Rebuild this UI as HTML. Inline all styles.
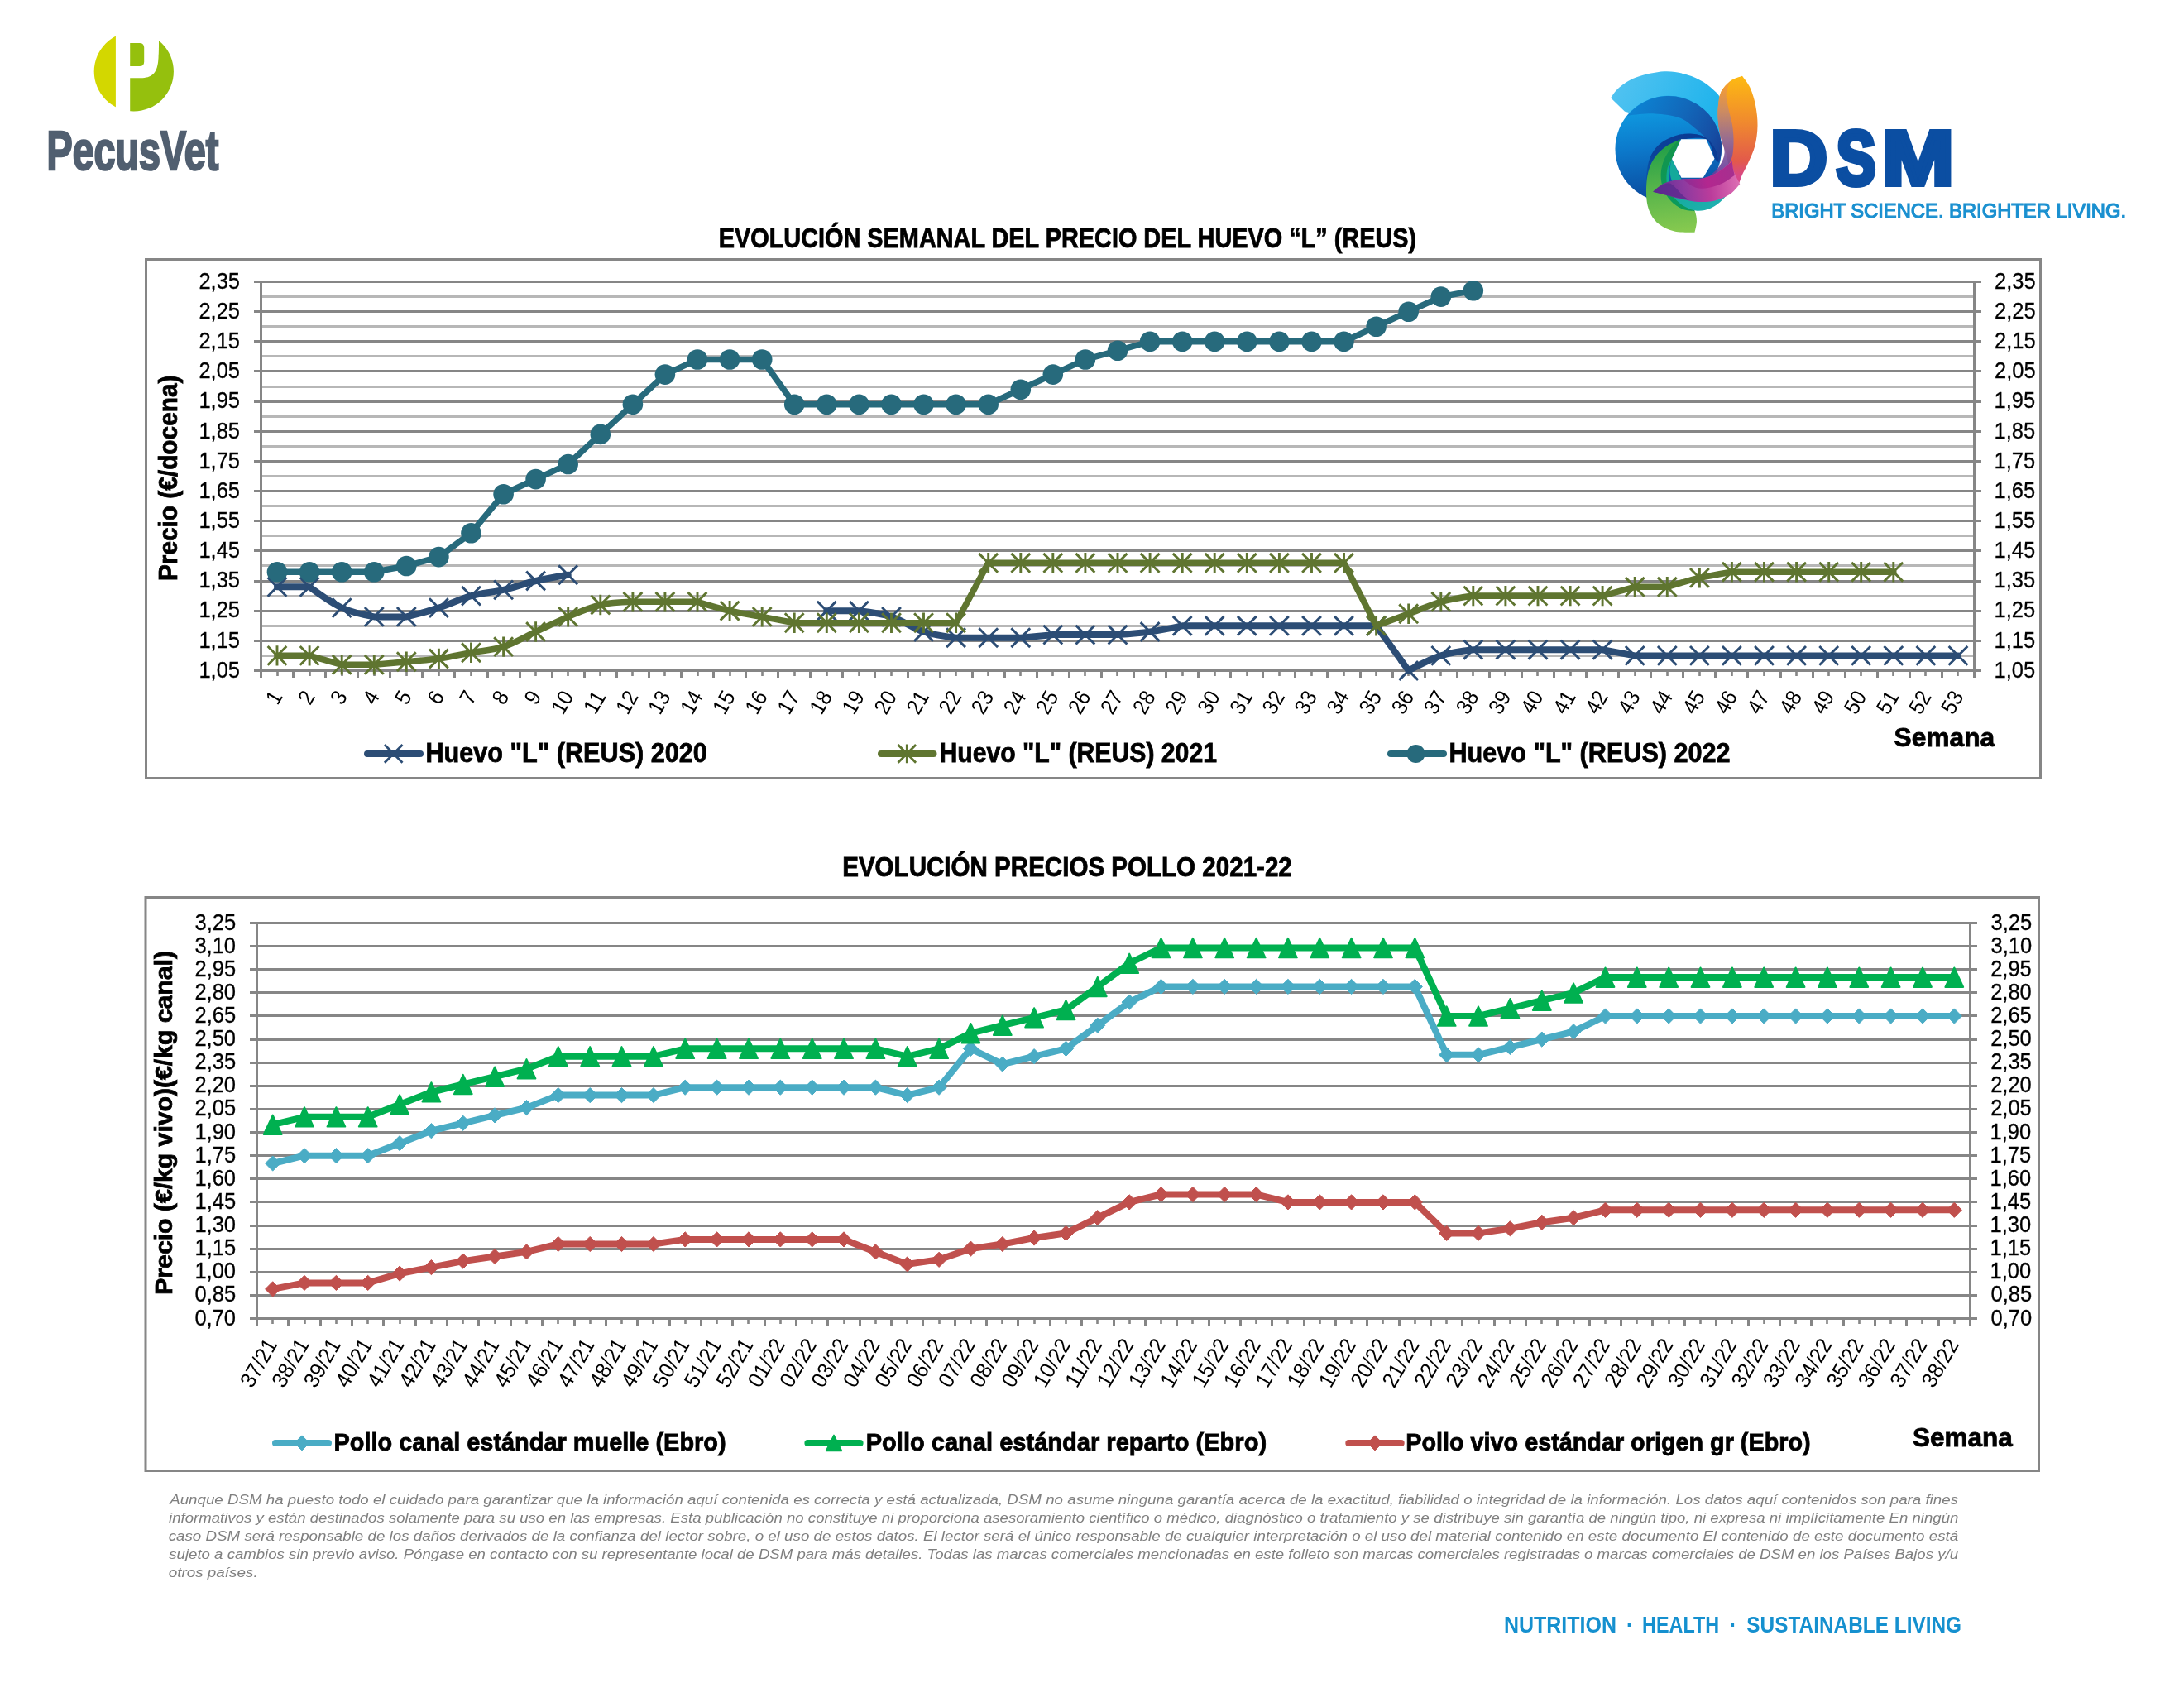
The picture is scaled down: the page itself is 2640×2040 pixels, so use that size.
<!DOCTYPE html>
<html lang="es"><head><meta charset="utf-8"><title>Evolución precios huevo y pollo</title>
<style>html,body{margin:0;padding:0;background:#fff}svg{display:block;will-change:transform}text{font-family:'Liberation Sans', sans-serif}</style>
</head><body>
<svg width="2640" height="2040" viewBox="0 0 2640 2040">
<rect width="2640" height="2040" fill="#fff"/>
<g id="pecusvet">
<defs><clipPath id="pvc"><circle cx="161.8" cy="86.4" r="48.1"/></clipPath></defs>
<g clip-path="url(#pvc)">
<rect x="100" y="30" width="39.9" height="120" fill="#d3d700"/>
<rect x="157.2" y="30" width="70" height="120" fill="#95c00d"/>
</g>
<path d="M150 30H191.2C192.4 45 192.2 62 191.2 74C189.5 89 183 94.2 170 94.2H150Z" fill="#fff"/>
<path d="M157.2 51.9H168.6Q174.2 51.9 174.2 57.5V74.5Q174.2 80.1 168.6 80.1H157.2Z" fill="#95c00d"/>
<text x="56.5" y="204.8" font-size="66.6" font-weight="700" fill="#515f70" stroke="#515f70" stroke-width="2.6" stroke-linejoin="miter" textLength="207.7" lengthAdjust="spacingAndGlyphs">PecusVet</text>
</g>
<g id="dsm" transform="translate(1930 70) scale(0.13622)">
<defs>
<linearGradient id="gLB" x1="0" y1="0" x2="1" y2="0.3"><stop offset="0" stop-color="#56c4f1"/><stop offset="1" stop-color="#21b4ec"/></linearGradient>
<linearGradient id="gDisc" gradientUnits="userSpaceOnUse" x1="420" y1="420" x2="520" y2="1250"><stop offset="0" stop-color="#0f9de2"/><stop offset="0.45" stop-color="#0c79cb"/><stop offset="1" stop-color="#0a4a9e"/></linearGradient>
<linearGradient id="gBand" gradientUnits="userSpaceOnUse" x1="300" y1="450" x2="1100" y2="850"><stop offset="0" stop-color="#0c84d4"/><stop offset="0.5" stop-color="#1267b9"/><stop offset="0.85" stop-color="#164ea4"/><stop offset="1" stop-color="#173f95"/></linearGradient>
<linearGradient id="gRing" gradientUnits="userSpaceOnUse" x1="900" y1="680" x2="450" y2="1180"><stop offset="0" stop-color="#0b3b93"/><stop offset="0.6" stop-color="#0a429a"/><stop offset="1" stop-color="#0a4a9e" stop-opacity="0.3"/></linearGradient>
<linearGradient id="gBand2" gradientUnits="userSpaceOnUse" x1="300" y1="500" x2="1000" y2="800"><stop offset="0" stop-color="#10a0e4"/><stop offset="0.6" stop-color="#0e78c8"/><stop offset="1" stop-color="#1455a8"/></linearGradient>
<linearGradient id="gOr" gradientUnits="userSpaceOnUse" x1="1300" y1="170" x2="1300" y2="1050"><stop offset="0" stop-color="#fdb913"/><stop offset="0.45" stop-color="#f08a2e"/><stop offset="0.85" stop-color="#e2594b"/><stop offset="1" stop-color="#d8478a"/></linearGradient>
<linearGradient id="gOrIn" gradientUnits="userSpaceOnUse" x1="1150" y1="250" x2="1150" y2="1000"><stop offset="0" stop-color="#f29a3a"/><stop offset="0.3" stop-color="#c98a66"/><stop offset="0.65" stop-color="#8d6a9a"/><stop offset="1" stop-color="#6a3f9c"/></linearGradient>
<linearGradient id="gMag" gradientUnits="userSpaceOnUse" x1="500" y1="1180" x2="1270" y2="1080"><stop offset="0" stop-color="#5b2d91"/><stop offset="0.35" stop-color="#8c3aa0"/><stop offset="0.65" stop-color="#bb3c9b"/><stop offset="1" stop-color="#dd6fb4"/></linearGradient>
<linearGradient id="gMag2" gradientUnits="userSpaceOnUse" x1="700" y1="1100" x2="1220" y2="950"><stop offset="0" stop-color="#7d2f97"/><stop offset="0.5" stop-color="#b3278f"/><stop offset="1" stop-color="#a5308f"/></linearGradient>
<linearGradient id="gGr" gradientUnits="userSpaceOnUse" x1="600" y1="760" x2="700" y2="1540"><stop offset="0" stop-color="#1f9e48"/><stop offset="0.4" stop-color="#4db04a"/><stop offset="1" stop-color="#86c94f"/></linearGradient>
<linearGradient id="gGr2" gradientUnits="userSpaceOnUse" x1="700" y1="760" x2="760" y2="1300"><stop offset="0" stop-color="#13944c"/><stop offset="1" stop-color="#0a9a5c"/></linearGradient>
<linearGradient id="gTeal" gradientUnits="userSpaceOnUse" x1="650" y1="950" x2="1050" y2="1320"><stop offset="0" stop-color="#0fa88f"/><stop offset="1" stop-color="#1fb0b0"/></linearGradient>
</defs>
<path d="M125.0 355.0C137.5 339.5 162.5 292.5 200.0 262.0C237.5 231.5 283.3 195.7 350.0 172.0C416.7 148.3 525.0 124.0 600.0 120.0C675.0 116.0 741.7 132.2 800.0 148.0C858.3 163.8 906.7 188.8 950.0 215.0C993.3 241.2 1034.2 280.0 1060.0 305.0C1085.8 330.0 1097.5 355.0 1105.0 365.0C1107.5 390.8 1119.2 464.2 1120.0 520.0C1120.8 575.8 1111.7 670.0 1110.0 700.0C1041.7 683.3 843.3 637.5 700.0 600.0C556.7 562.5 325.0 495.8 250.0 475.0L125.0 355.0Z" fill="url(#gLB)"/>
<circle cx="637" cy="808" r="472" fill="url(#gDisc)"/>
<path d="M258 530A472 472 0 0 1 1108 760C1107.5 775.0 1108.8 821.7 1105.0 850.0C1101.2 878.3 1088.3 916.7 1085.0 930.0C1080.3 910.5 1077.8 851.0 1057.0 813.0C1036.2 775.0 976.2 720.5 960.0 702.0C947.8 690.8 923.8 663.3 887.0 635.0C850.2 606.7 800.7 555.3 739.0 532.0C677.3 508.7 591.0 498.7 517.0 495.0C443.0 491.3 338.2 504.2 295.0 510.0C251.8 515.8 264.2 526.7 258.0 530.0Z" fill="url(#gBand)"/>
<path d="M440.0 1180.0C440.5 1155.8 437.5 1083.8 443.0 1035.0C448.5 986.2 455.8 930.2 473.0 887.0C490.2 843.8 514.0 806.8 546.0 776.0C578.0 745.2 620.5 719.3 665.0 702.0C709.5 684.7 763.8 672.0 813.0 672.0C862.2 672.0 919.3 678.5 960.0 702.0C1000.7 725.5 1036.2 775.0 1057.0 813.0C1077.8 851.0 1080.3 910.5 1085.0 930.0L1046.0 893.0C1033.7 864.5 1021.3 750.5 972.0 722.0C922.7 693.5 787.0 722.0 750.0 722.0C733.3 733.3 681.7 760.3 650.0 790.0C618.3 819.7 585.0 858.3 560.0 900.0C535.0 941.7 513.3 993.3 500.0 1040.0C486.7 1086.7 483.3 1156.7 480.0 1180.0L440.0 1180.0Z" fill="url(#gRing)"/>
<path d="M745.0 722.0C722.5 733.3 650.0 760.3 610.0 790.0C570.0 819.7 531.7 856.7 505.0 900.0C478.3 943.3 460.3 991.7 450.0 1050.0C439.7 1108.3 438.0 1194.2 443.0 1250.0C448.0 1305.8 460.5 1346.7 480.0 1385.0C499.5 1423.3 525.0 1454.5 560.0 1480.0C595.0 1505.5 638.3 1526.7 690.0 1538.0C741.7 1549.3 840.0 1546.3 870.0 1548.0C873.0 1531.7 887.7 1481.3 888.0 1450.0C888.3 1418.7 881.7 1385.0 872.0 1360.0C862.3 1335.0 837.0 1310.0 830.0 1300.0C811.7 1288.3 750.0 1260.0 720.0 1230.0C690.0 1200.0 663.3 1158.3 650.0 1120.0C636.7 1081.7 637.0 1037.5 640.0 1000.0C643.0 962.5 663.3 912.5 668.0 895.0L745.0 722.0Z" fill="url(#gGr)"/>
<path d="M745.0 722.0C732.5 733.3 694.2 760.3 670.0 790.0C645.8 819.7 616.7 860.0 600.0 900.0C583.3 940.0 571.7 986.7 570.0 1030.0C568.3 1073.3 575.0 1120.0 590.0 1160.0C605.0 1200.0 631.7 1240.0 660.0 1270.0C688.3 1300.0 724.7 1325.0 760.0 1340.0C795.3 1355.0 853.3 1356.7 872.0 1360.0L830.0 1300.0C811.7 1288.3 750.0 1260.0 720.0 1230.0C690.0 1200.0 663.3 1158.3 650.0 1120.0C636.7 1081.7 637.0 1037.5 640.0 1000.0C643.0 962.5 663.3 912.5 668.0 895.0L745.0 722.0Z" fill="url(#gGr2)"/>
<path d="M668.0 895.0C663.3 912.5 643.0 964.2 640.0 1000.0C637.0 1035.8 640.0 1076.7 650.0 1110.0C660.0 1143.3 681.7 1193.3 700.0 1200.0C718.3 1206.7 726.7 1166.7 760.0 1150.0C793.3 1133.3 843.3 1108.3 900.0 1100.0C956.7 1091.7 1050.0 1091.7 1100.0 1100.0C1150.0 1108.3 1183.3 1141.7 1200.0 1150.0C1186.7 1167.5 1151.7 1224.2 1120.0 1255.0C1088.3 1285.8 1048.3 1318.2 1010.0 1335.0C971.7 1351.8 928.3 1358.8 890.0 1356.0C851.7 1353.2 813.3 1337.3 780.0 1318.0C746.7 1298.7 715.8 1273.0 690.0 1240.0C664.2 1207.0 635.3 1163.3 625.0 1120.0C614.7 1076.7 620.8 1017.5 628.0 980.0C635.2 942.5 661.3 909.2 668.0 895.0Z" fill="url(#gTeal)"/>
<path d="M668.0 895.0C665.0 912.5 649.3 965.8 650.0 1000.0C650.7 1034.2 657.0 1066.7 672.0 1100.0C687.0 1133.3 713.7 1174.2 740.0 1200.0C766.3 1225.8 815.0 1245.8 830.0 1255.0L745.0 1063.0L668.0 895.0Z" fill="#14a99b"/>
<path d="M1292.0 160.0C1303.7 177.5 1342.3 221.7 1362.0 265.0C1381.7 308.3 1399.0 364.2 1410.0 420.0C1421.0 475.8 1428.8 540.0 1428.0 600.0C1427.2 660.0 1418.8 725.0 1405.0 780.0C1391.2 835.0 1364.2 886.7 1345.0 930.0C1325.8 973.3 1303.3 1010.0 1290.0 1040.0C1276.7 1070.0 1269.2 1098.3 1265.0 1110.0C1252.5 1093.3 1209.2 1053.3 1190.0 1010.0C1170.8 966.7 1156.7 876.7 1150.0 850.0C1141.7 825.0 1112.0 748.3 1100.0 700.0C1088.0 651.7 1081.7 605.0 1078.0 560.0C1074.3 515.0 1073.5 473.3 1078.0 430.0C1082.5 386.7 1087.2 337.5 1105.0 300.0C1122.8 262.5 1153.8 228.3 1185.0 205.0C1216.2 181.7 1274.2 167.5 1292.0 160.0Z" fill="url(#gOr)"/>
<path d="M1185.0 205.0C1171.7 220.8 1122.8 262.5 1105.0 300.0C1087.2 337.5 1082.5 386.7 1078.0 430.0C1073.5 473.3 1074.3 515.0 1078.0 560.0C1081.7 605.0 1090.5 653.3 1100.0 700.0C1109.5 746.7 1136.7 796.7 1135.0 840.0C1133.3 883.3 1112.5 925.0 1090.0 960.0C1067.5 995.0 1015.0 1035.0 1000.0 1050.0C1020.0 1041.7 1087.5 1025.0 1120.0 1000.0C1152.5 975.0 1179.2 940.0 1195.0 900.0C1210.8 860.0 1213.3 810.0 1215.0 760.0C1216.7 710.0 1212.5 651.7 1205.0 600.0C1197.5 548.3 1179.2 496.7 1170.0 450.0C1160.8 403.3 1147.5 360.8 1150.0 320.0C1152.5 279.2 1179.2 224.2 1185.0 205.0Z" fill="url(#gOrIn)" opacity="0.92"/>
<path d="M500.0 1187.0C516.7 1174.5 558.3 1130.5 600.0 1112.0C641.7 1093.5 691.7 1083.7 750.0 1076.0C808.3 1068.3 895.0 1076.7 950.0 1066.0C1005.0 1055.3 1041.7 1033.8 1080.0 1012.0C1118.3 990.2 1159.7 951.2 1180.0 935.0C1200.3 918.8 1198.3 918.3 1202.0 915.0C1204.2 929.2 1203.3 965.8 1215.0 1000.0C1226.7 1034.2 1262.5 1100.0 1272.0 1120.0C1256.7 1135.3 1217.0 1187.7 1180.0 1212.0C1143.0 1236.3 1096.7 1255.2 1050.0 1266.0C1003.3 1276.8 950.0 1279.3 900.0 1277.0C850.0 1274.7 796.7 1262.0 750.0 1252.0C703.3 1242.0 661.7 1227.8 620.0 1217.0C578.3 1206.2 520.0 1192.0 500.0 1187.0Z" fill="url(#gMag)"/>
<path d="M760.0 1075.0C791.7 1073.5 896.7 1076.5 950.0 1066.0C1003.3 1055.5 1041.7 1033.8 1080.0 1012.0C1118.3 990.2 1159.7 951.2 1180.0 935.0C1200.3 918.8 1198.3 918.3 1202.0 915.0C1203.7 927.5 1208.2 969.2 1212.0 990.0C1215.8 1010.8 1222.8 1031.7 1225.0 1040.0C1207.5 1051.7 1157.5 1091.7 1120.0 1110.0C1082.5 1128.3 1040.0 1143.3 1000.0 1150.0C960.0 1156.7 920.0 1162.5 880.0 1150.0C840.0 1137.5 780.0 1087.5 760.0 1075.0Z" fill="url(#gMag2)"/>
<path d="M500.0 1187.0C510.0 1179.2 536.7 1152.8 560.0 1140.0C583.3 1127.2 616.7 1108.3 640.0 1110.0C663.3 1111.7 680.0 1132.5 700.0 1150.0C720.0 1167.5 740.0 1196.3 760.0 1215.0C780.0 1233.7 810.0 1254.2 820.0 1262.0C791.7 1255.8 703.3 1237.5 650.0 1225.0C596.7 1212.5 525.0 1193.3 500.0 1187.0Z" fill="#5a2a8e" opacity="0.75"/>
<path d="M668 895L750 722H972L1046 893L945 1062H752Z" fill="#fff"/>
</g>
<text y="223.3" font-size="92.9" font-weight="700" fill="#0b4ea2" stroke="#0b4ea2" stroke-width="6" stroke-linejoin="miter"><tspan x="2139.7" textLength="69.2" lengthAdjust="spacingAndGlyphs">D</tspan><tspan x="2219.4" textLength="48.1" lengthAdjust="spacingAndGlyphs">S</tspan><tspan x="2274.7" textLength="87.3" lengthAdjust="spacingAndGlyphs">M</tspan></text>
<text x="2141.3" y="262.8" font-size="24.6" fill="#1a90d0" stroke="#1a90d0" stroke-width="1.2" textLength="428.7" lengthAdjust="spacingAndGlyphs">BRIGHT SCIENCE. BRIGHTER LIVING.</text>
<g id="chart1">
<rect x="176.5" y="313.5" width="2290" height="627" fill="#fff" stroke="#868686" stroke-width="3"/>
<text x="868.8" y="298.8" font-size="32.83720930232558" font-weight="700" textLength="843.3" lengthAdjust="spacingAndGlyphs" stroke="#000" stroke-width="0.8">EVOLUCIÓN SEMANAL DEL PRECIO DEL HUEVO “L” (REUS)</text>
<path d="M315.5 792.50H2386.5M315.5 756.50H2386.5M315.5 720.50H2386.5M315.5 683.50H2386.5M315.5 647.50H2386.5M315.5 611.50H2386.5M315.5 575.50H2386.5M315.5 539.50H2386.5M315.5 503.50H2386.5M315.5 467.50H2386.5M315.5 430.50H2386.5M315.5 394.50H2386.5M315.5 358.50H2386.5" stroke="#b7b7b7" stroke-width="3" fill="none"/>
<path d="M307.0 810.50H2395.0M307.0 774.50H2395.0M307.0 738.50H2395.0M307.0 702.50H2395.0M307.0 665.50H2395.0M307.0 629.50H2395.0M307.0 593.50H2395.0M307.0 557.50H2395.0M307.0 521.50H2395.0M307.0 485.50H2395.0M307.0 448.50H2395.0M307.0 412.50H2395.0M307.0 376.50H2395.0M307.0 340.50H2395.0" stroke="#868686" stroke-width="3" fill="none"/>
<path d="M315.5 340.5V810.5M2386.5 340.5V810.5" stroke="#868686" stroke-width="3" fill="none"/>
<path d="M315.50 810.5v8.5M354.50 810.5v8.5M393.50 810.5v8.5M432.50 810.5v8.5M471.50 810.5v8.5M510.50 810.5v8.5M549.50 810.5v8.5M589.50 810.5v8.5M628.50 810.5v8.5M667.50 810.5v8.5M706.50 810.5v8.5M745.50 810.5v8.5M784.50 810.5v8.5M823.50 810.5v8.5M862.50 810.5v8.5M901.50 810.5v8.5M940.50 810.5v8.5M979.50 810.5v8.5M1018.50 810.5v8.5M1057.50 810.5v8.5M1097.50 810.5v8.5M1136.50 810.5v8.5M1175.50 810.5v8.5M1214.50 810.5v8.5M1253.50 810.5v8.5M1292.50 810.5v8.5M1331.50 810.5v8.5M1370.50 810.5v8.5M1409.50 810.5v8.5M1448.50 810.5v8.5M1487.50 810.5v8.5M1526.50 810.5v8.5M1565.50 810.5v8.5M1604.50 810.5v8.5M1644.50 810.5v8.5M1683.50 810.5v8.5M1722.50 810.5v8.5M1761.50 810.5v8.5M1800.50 810.5v8.5M1839.50 810.5v8.5M1878.50 810.5v8.5M1917.50 810.5v8.5M1956.50 810.5v8.5M1995.50 810.5v8.5M2034.50 810.5v8.5M2073.50 810.5v8.5M2112.50 810.5v8.5M2152.50 810.5v8.5M2191.50 810.5v8.5M2230.50 810.5v8.5M2269.50 810.5v8.5M2308.50 810.5v8.5M2347.50 810.5v8.5M2386.50 810.5v8.5" stroke="#868686" stroke-width="3" fill="none"/>
<path d="M335.50 810.5v6.5M374.50 810.5v6.5M413.50 810.5v6.5M452.50 810.5v6.5M491.50 810.5v6.5M530.50 810.5v6.5M569.50 810.5v6.5M608.50 810.5v6.5M647.50 810.5v6.5M686.50 810.5v6.5M725.50 810.5v6.5M764.50 810.5v6.5M803.50 810.5v6.5M843.50 810.5v6.5M882.50 810.5v6.5M921.50 810.5v6.5M960.50 810.5v6.5M999.50 810.5v6.5M1038.50 810.5v6.5M1077.50 810.5v6.5M1116.50 810.5v6.5M1155.50 810.5v6.5M1194.50 810.5v6.5M1233.50 810.5v6.5M1272.50 810.5v6.5M1311.50 810.5v6.5M1350.50 810.5v6.5M1390.50 810.5v6.5M1429.50 810.5v6.5M1468.50 810.5v6.5M1507.50 810.5v6.5M1546.50 810.5v6.5M1585.50 810.5v6.5M1624.50 810.5v6.5M1663.50 810.5v6.5M1702.50 810.5v6.5M1741.50 810.5v6.5M1780.50 810.5v6.5M1819.50 810.5v6.5M1858.50 810.5v6.5M1898.50 810.5v6.5M1937.50 810.5v6.5M1976.50 810.5v6.5M2015.50 810.5v6.5M2054.50 810.5v6.5M2093.50 810.5v6.5M2132.50 810.5v6.5M2171.50 810.5v6.5M2210.50 810.5v6.5M2249.50 810.5v6.5M2288.50 810.5v6.5M2327.50 810.5v6.5M2366.50 810.5v6.5" stroke="#868686" stroke-width="2.6" fill="none"/>
<g>
<text x="290.0" y="818.7" font-size="27.4" text-anchor="end" textLength="49.6" lengthAdjust="spacingAndGlyphs" stroke="#000" stroke-width="0.3">1,05</text>
<text x="2410.5" y="818.7" font-size="27.4" textLength="49.6" lengthAdjust="spacingAndGlyphs" stroke="#000" stroke-width="0.3">1,05</text>
<text x="290.0" y="782.5" font-size="27.4" text-anchor="end" textLength="49.6" lengthAdjust="spacingAndGlyphs" stroke="#000" stroke-width="0.3">1,15</text>
<text x="2410.5" y="782.5" font-size="27.4" textLength="49.6" lengthAdjust="spacingAndGlyphs" stroke="#000" stroke-width="0.3">1,15</text>
<text x="290.0" y="746.4" font-size="27.4" text-anchor="end" textLength="49.6" lengthAdjust="spacingAndGlyphs" stroke="#000" stroke-width="0.3">1,25</text>
<text x="2410.5" y="746.4" font-size="27.4" textLength="49.6" lengthAdjust="spacingAndGlyphs" stroke="#000" stroke-width="0.3">1,25</text>
<text x="290.0" y="710.2" font-size="27.4" text-anchor="end" textLength="49.6" lengthAdjust="spacingAndGlyphs" stroke="#000" stroke-width="0.3">1,35</text>
<text x="2410.5" y="710.2" font-size="27.4" textLength="49.6" lengthAdjust="spacingAndGlyphs" stroke="#000" stroke-width="0.3">1,35</text>
<text x="290.0" y="674.1" font-size="27.4" text-anchor="end" textLength="49.6" lengthAdjust="spacingAndGlyphs" stroke="#000" stroke-width="0.3">1,45</text>
<text x="2410.5" y="674.1" font-size="27.4" textLength="49.6" lengthAdjust="spacingAndGlyphs" stroke="#000" stroke-width="0.3">1,45</text>
<text x="290.0" y="637.9" font-size="27.4" text-anchor="end" textLength="49.6" lengthAdjust="spacingAndGlyphs" stroke="#000" stroke-width="0.3">1,55</text>
<text x="2410.5" y="637.9" font-size="27.4" textLength="49.6" lengthAdjust="spacingAndGlyphs" stroke="#000" stroke-width="0.3">1,55</text>
<text x="290.0" y="601.8" font-size="27.4" text-anchor="end" textLength="49.6" lengthAdjust="spacingAndGlyphs" stroke="#000" stroke-width="0.3">1,65</text>
<text x="2410.5" y="601.8" font-size="27.4" textLength="49.6" lengthAdjust="spacingAndGlyphs" stroke="#000" stroke-width="0.3">1,65</text>
<text x="290.0" y="565.6" font-size="27.4" text-anchor="end" textLength="49.6" lengthAdjust="spacingAndGlyphs" stroke="#000" stroke-width="0.3">1,75</text>
<text x="2410.5" y="565.6" font-size="27.4" textLength="49.6" lengthAdjust="spacingAndGlyphs" stroke="#000" stroke-width="0.3">1,75</text>
<text x="290.0" y="529.5" font-size="27.4" text-anchor="end" textLength="49.6" lengthAdjust="spacingAndGlyphs" stroke="#000" stroke-width="0.3">1,85</text>
<text x="2410.5" y="529.5" font-size="27.4" textLength="49.6" lengthAdjust="spacingAndGlyphs" stroke="#000" stroke-width="0.3">1,85</text>
<text x="290.0" y="493.3" font-size="27.4" text-anchor="end" textLength="49.6" lengthAdjust="spacingAndGlyphs" stroke="#000" stroke-width="0.3">1,95</text>
<text x="2410.5" y="493.3" font-size="27.4" textLength="49.6" lengthAdjust="spacingAndGlyphs" stroke="#000" stroke-width="0.3">1,95</text>
<text x="290.0" y="457.2" font-size="27.4" text-anchor="end" textLength="49.6" lengthAdjust="spacingAndGlyphs" stroke="#000" stroke-width="0.3">2,05</text>
<text x="2411.1" y="457.2" font-size="27.4" textLength="49.6" lengthAdjust="spacingAndGlyphs" stroke="#000" stroke-width="0.3">2,05</text>
<text x="290.0" y="421.0" font-size="27.4" text-anchor="end" textLength="49.6" lengthAdjust="spacingAndGlyphs" stroke="#000" stroke-width="0.3">2,15</text>
<text x="2411.1" y="421.0" font-size="27.4" textLength="49.6" lengthAdjust="spacingAndGlyphs" stroke="#000" stroke-width="0.3">2,15</text>
<text x="290.0" y="384.9" font-size="27.4" text-anchor="end" textLength="49.6" lengthAdjust="spacingAndGlyphs" stroke="#000" stroke-width="0.3">2,25</text>
<text x="2411.1" y="384.9" font-size="27.4" textLength="49.6" lengthAdjust="spacingAndGlyphs" stroke="#000" stroke-width="0.3">2,25</text>
<text x="290.0" y="348.7" font-size="27.4" text-anchor="end" textLength="49.6" lengthAdjust="spacingAndGlyphs" stroke="#000" stroke-width="0.3">2,35</text>
<text x="2411.1" y="348.7" font-size="27.4" textLength="49.6" lengthAdjust="spacingAndGlyphs" stroke="#000" stroke-width="0.3">2,35</text>
</g>
<text x="0" y="0" font-size="26.4" text-anchor="end" textLength="13.7" lengthAdjust="spacingAndGlyphs" transform="translate(342.4 841.4) rotate(-60)">1</text>
<text x="0" y="0" font-size="26.4" text-anchor="end" textLength="13.7" lengthAdjust="spacingAndGlyphs" transform="translate(381.5 841.4) rotate(-60)">2</text>
<text x="0" y="0" font-size="26.4" text-anchor="end" textLength="13.7" lengthAdjust="spacingAndGlyphs" transform="translate(420.6 841.4) rotate(-60)">3</text>
<text x="0" y="0" font-size="26.4" text-anchor="end" textLength="13.7" lengthAdjust="spacingAndGlyphs" transform="translate(459.7 841.4) rotate(-60)">4</text>
<text x="0" y="0" font-size="26.4" text-anchor="end" textLength="13.7" lengthAdjust="spacingAndGlyphs" transform="translate(498.7 841.4) rotate(-60)">5</text>
<text x="0" y="0" font-size="26.4" text-anchor="end" textLength="13.7" lengthAdjust="spacingAndGlyphs" transform="translate(537.8 841.4) rotate(-60)">6</text>
<text x="0" y="0" font-size="26.4" text-anchor="end" textLength="13.7" lengthAdjust="spacingAndGlyphs" transform="translate(576.9 841.4) rotate(-60)">7</text>
<text x="0" y="0" font-size="26.4" text-anchor="end" textLength="13.7" lengthAdjust="spacingAndGlyphs" transform="translate(616.0 841.4) rotate(-60)">8</text>
<text x="0" y="0" font-size="26.4" text-anchor="end" textLength="13.7" lengthAdjust="spacingAndGlyphs" transform="translate(655.0 841.4) rotate(-60)">9</text>
<text x="0" y="0" font-size="26.4" text-anchor="end" textLength="27.3" lengthAdjust="spacingAndGlyphs" transform="translate(694.1 841.4) rotate(-60)">10</text>
<text x="0" y="0" font-size="26.4" text-anchor="end" textLength="27.3" lengthAdjust="spacingAndGlyphs" transform="translate(733.2 841.4) rotate(-60)">11</text>
<text x="0" y="0" font-size="26.4" text-anchor="end" textLength="27.3" lengthAdjust="spacingAndGlyphs" transform="translate(772.3 841.4) rotate(-60)">12</text>
<text x="0" y="0" font-size="26.4" text-anchor="end" textLength="27.3" lengthAdjust="spacingAndGlyphs" transform="translate(811.3 841.4) rotate(-60)">13</text>
<text x="0" y="0" font-size="26.4" text-anchor="end" textLength="27.3" lengthAdjust="spacingAndGlyphs" transform="translate(850.4 841.4) rotate(-60)">14</text>
<text x="0" y="0" font-size="26.4" text-anchor="end" textLength="27.3" lengthAdjust="spacingAndGlyphs" transform="translate(889.5 841.4) rotate(-60)">15</text>
<text x="0" y="0" font-size="26.4" text-anchor="end" textLength="27.3" lengthAdjust="spacingAndGlyphs" transform="translate(928.6 841.4) rotate(-60)">16</text>
<text x="0" y="0" font-size="26.4" text-anchor="end" textLength="27.3" lengthAdjust="spacingAndGlyphs" transform="translate(967.6 841.4) rotate(-60)">17</text>
<text x="0" y="0" font-size="26.4" text-anchor="end" textLength="27.3" lengthAdjust="spacingAndGlyphs" transform="translate(1006.7 841.4) rotate(-60)">18</text>
<text x="0" y="0" font-size="26.4" text-anchor="end" textLength="27.3" lengthAdjust="spacingAndGlyphs" transform="translate(1045.8 841.4) rotate(-60)">19</text>
<text x="0" y="0" font-size="26.4" text-anchor="end" textLength="27.3" lengthAdjust="spacingAndGlyphs" transform="translate(1084.9 841.4) rotate(-60)">20</text>
<text x="0" y="0" font-size="26.4" text-anchor="end" textLength="27.3" lengthAdjust="spacingAndGlyphs" transform="translate(1123.9 841.4) rotate(-60)">21</text>
<text x="0" y="0" font-size="26.4" text-anchor="end" textLength="27.3" lengthAdjust="spacingAndGlyphs" transform="translate(1163.0 841.4) rotate(-60)">22</text>
<text x="0" y="0" font-size="26.4" text-anchor="end" textLength="27.3" lengthAdjust="spacingAndGlyphs" transform="translate(1202.1 841.4) rotate(-60)">23</text>
<text x="0" y="0" font-size="26.4" text-anchor="end" textLength="27.3" lengthAdjust="spacingAndGlyphs" transform="translate(1241.2 841.4) rotate(-60)">24</text>
<text x="0" y="0" font-size="26.4" text-anchor="end" textLength="27.3" lengthAdjust="spacingAndGlyphs" transform="translate(1280.2 841.4) rotate(-60)">25</text>
<text x="0" y="0" font-size="26.4" text-anchor="end" textLength="27.3" lengthAdjust="spacingAndGlyphs" transform="translate(1319.3 841.4) rotate(-60)">26</text>
<text x="0" y="0" font-size="26.4" text-anchor="end" textLength="27.3" lengthAdjust="spacingAndGlyphs" transform="translate(1358.4 841.4) rotate(-60)">27</text>
<text x="0" y="0" font-size="26.4" text-anchor="end" textLength="27.3" lengthAdjust="spacingAndGlyphs" transform="translate(1397.5 841.4) rotate(-60)">28</text>
<text x="0" y="0" font-size="26.4" text-anchor="end" textLength="27.3" lengthAdjust="spacingAndGlyphs" transform="translate(1436.6 841.4) rotate(-60)">29</text>
<text x="0" y="0" font-size="26.4" text-anchor="end" textLength="27.3" lengthAdjust="spacingAndGlyphs" transform="translate(1475.6 841.4) rotate(-60)">30</text>
<text x="0" y="0" font-size="26.4" text-anchor="end" textLength="27.3" lengthAdjust="spacingAndGlyphs" transform="translate(1514.7 841.4) rotate(-60)">31</text>
<text x="0" y="0" font-size="26.4" text-anchor="end" textLength="27.3" lengthAdjust="spacingAndGlyphs" transform="translate(1553.8 841.4) rotate(-60)">32</text>
<text x="0" y="0" font-size="26.4" text-anchor="end" textLength="27.3" lengthAdjust="spacingAndGlyphs" transform="translate(1592.9 841.4) rotate(-60)">33</text>
<text x="0" y="0" font-size="26.4" text-anchor="end" textLength="27.3" lengthAdjust="spacingAndGlyphs" transform="translate(1631.9 841.4) rotate(-60)">34</text>
<text x="0" y="0" font-size="26.4" text-anchor="end" textLength="27.3" lengthAdjust="spacingAndGlyphs" transform="translate(1671.0 841.4) rotate(-60)">35</text>
<text x="0" y="0" font-size="26.4" text-anchor="end" textLength="27.3" lengthAdjust="spacingAndGlyphs" transform="translate(1710.1 841.4) rotate(-60)">36</text>
<text x="0" y="0" font-size="26.4" text-anchor="end" textLength="27.3" lengthAdjust="spacingAndGlyphs" transform="translate(1749.2 841.4) rotate(-60)">37</text>
<text x="0" y="0" font-size="26.4" text-anchor="end" textLength="27.3" lengthAdjust="spacingAndGlyphs" transform="translate(1788.2 841.4) rotate(-60)">38</text>
<text x="0" y="0" font-size="26.4" text-anchor="end" textLength="27.3" lengthAdjust="spacingAndGlyphs" transform="translate(1827.3 841.4) rotate(-60)">39</text>
<text x="0" y="0" font-size="26.4" text-anchor="end" textLength="27.3" lengthAdjust="spacingAndGlyphs" transform="translate(1866.4 841.4) rotate(-60)">40</text>
<text x="0" y="0" font-size="26.4" text-anchor="end" textLength="27.3" lengthAdjust="spacingAndGlyphs" transform="translate(1905.5 841.4) rotate(-60)">41</text>
<text x="0" y="0" font-size="26.4" text-anchor="end" textLength="27.3" lengthAdjust="spacingAndGlyphs" transform="translate(1944.5 841.4) rotate(-60)">42</text>
<text x="0" y="0" font-size="26.4" text-anchor="end" textLength="27.3" lengthAdjust="spacingAndGlyphs" transform="translate(1983.6 841.4) rotate(-60)">43</text>
<text x="0" y="0" font-size="26.4" text-anchor="end" textLength="27.3" lengthAdjust="spacingAndGlyphs" transform="translate(2022.7 841.4) rotate(-60)">44</text>
<text x="0" y="0" font-size="26.4" text-anchor="end" textLength="27.3" lengthAdjust="spacingAndGlyphs" transform="translate(2061.8 841.4) rotate(-60)">45</text>
<text x="0" y="0" font-size="26.4" text-anchor="end" textLength="27.3" lengthAdjust="spacingAndGlyphs" transform="translate(2100.8 841.4) rotate(-60)">46</text>
<text x="0" y="0" font-size="26.4" text-anchor="end" textLength="27.3" lengthAdjust="spacingAndGlyphs" transform="translate(2139.9 841.4) rotate(-60)">47</text>
<text x="0" y="0" font-size="26.4" text-anchor="end" textLength="27.3" lengthAdjust="spacingAndGlyphs" transform="translate(2179.0 841.4) rotate(-60)">48</text>
<text x="0" y="0" font-size="26.4" text-anchor="end" textLength="27.3" lengthAdjust="spacingAndGlyphs" transform="translate(2218.1 841.4) rotate(-60)">49</text>
<text x="0" y="0" font-size="26.4" text-anchor="end" textLength="27.3" lengthAdjust="spacingAndGlyphs" transform="translate(2257.1 841.4) rotate(-60)">50</text>
<text x="0" y="0" font-size="26.4" text-anchor="end" textLength="27.3" lengthAdjust="spacingAndGlyphs" transform="translate(2296.2 841.4) rotate(-60)">51</text>
<text x="0" y="0" font-size="26.4" text-anchor="end" textLength="27.3" lengthAdjust="spacingAndGlyphs" transform="translate(2335.3 841.4) rotate(-60)">52</text>
<text x="0" y="0" font-size="26.4" text-anchor="end" textLength="27.3" lengthAdjust="spacingAndGlyphs" transform="translate(2374.4 841.4) rotate(-60)">53</text>
<text x="0" y="0" font-size="30.637209302325584" font-weight="700" text-anchor="middle" textLength="248.5" lengthAdjust="spacingAndGlyphs" stroke="#000" stroke-width="0.8" transform="translate(213.5 577.8) rotate(-90)">Precio (€/docena)</text>
<text x="2289.5" y="901.5" font-size="30.837209302325583" font-weight="700" textLength="121.7" lengthAdjust="spacingAndGlyphs" stroke="#000" stroke-width="0.8">Semana</text>
<defs>
<path id="mx" d="M-11.4 -11.4L11.4 11.4M-11.4 11.4L11.4 -11.4" fill="none" stroke-width="2.9"/>
<path id="ma" d="M-11.4 -11.4L11.4 11.4M-11.4 11.4L11.4 -11.4M0 -12.2V12.2" fill="none" stroke-width="2.9"/>
<path id="md" d="M0 -9.1L9.1 0L0 9.1L-9.1 0Z" stroke-width="1" stroke-linejoin="round"/>
<path id="mt" d="M0 -11.6L10.9 11.8H-10.9Z" stroke-width="2" stroke-linejoin="round"/>
</defs>
<g stroke="#2c4d75" fill="#2c4d75">
<path d="M335.0 709.3L374.1 709.3C374.1 709.3 400.2 728.6 413.2 734.6C426.2 740.6 452.3 745.4 452.3 745.4L491.3 745.4C491.3 745.4 517.4 738.8 530.4 734.6C543.4 730.4 556.5 723.7 569.5 720.1C582.5 716.5 595.5 715.9 608.6 712.9C621.6 709.9 634.6 705.1 647.6 702.0C660.7 699.0 686.7 694.8 686.7 694.8" fill="none" stroke-width="8" stroke-linejoin="round" stroke-linecap="round"/>
<path d="M999.3 738.2L1038.4 738.2C1038.4 738.2 1064.4 741.2 1077.5 745.4C1090.5 749.6 1103.5 759.3 1116.5 763.5C1129.6 767.7 1155.6 770.7 1155.6 770.7L1194.7 770.7L1233.8 770.7L1272.8 767.1L1311.9 767.1L1351.0 767.1C1351.0 767.1 1377.1 765.3 1390.1 763.5C1403.1 761.7 1429.2 756.3 1429.2 756.3L1468.2 756.3L1507.3 756.3L1546.4 756.3L1585.5 756.3L1624.5 756.3L1663.6 756.3L1702.7 810.5C1702.7 810.5 1728.7 796.6 1741.8 792.4C1754.8 788.2 1780.8 785.2 1780.8 785.2L1819.9 785.2L1859.0 785.2L1898.1 785.2L1937.1 785.2L1976.2 792.4L2015.3 792.4L2054.4 792.4L2093.4 792.4L2132.5 792.4L2171.6 792.4L2210.7 792.4L2249.7 792.4L2288.8 792.4L2327.9 792.4L2367.0 792.4" fill="none" stroke-width="8" stroke-linejoin="round" stroke-linecap="round"/>
<use href="#mx" x="335.0" y="709.3"/>
<use href="#mx" x="374.1" y="709.3"/>
<use href="#mx" x="413.2" y="734.6"/>
<use href="#mx" x="452.3" y="745.4"/>
<use href="#mx" x="491.3" y="745.4"/>
<use href="#mx" x="530.4" y="734.6"/>
<use href="#mx" x="569.5" y="720.1"/>
<use href="#mx" x="608.6" y="712.9"/>
<use href="#mx" x="647.6" y="702.0"/>
<use href="#mx" x="686.7" y="694.8"/>
<use href="#mx" x="999.3" y="738.2"/>
<use href="#mx" x="1038.4" y="738.2"/>
<use href="#mx" x="1077.5" y="745.4"/>
<use href="#mx" x="1116.5" y="763.5"/>
<use href="#mx" x="1155.6" y="770.7"/>
<use href="#mx" x="1194.7" y="770.7"/>
<use href="#mx" x="1233.8" y="770.7"/>
<use href="#mx" x="1272.8" y="767.1"/>
<use href="#mx" x="1311.9" y="767.1"/>
<use href="#mx" x="1351.0" y="767.1"/>
<use href="#mx" x="1390.1" y="763.5"/>
<use href="#mx" x="1429.2" y="756.3"/>
<use href="#mx" x="1468.2" y="756.3"/>
<use href="#mx" x="1507.3" y="756.3"/>
<use href="#mx" x="1546.4" y="756.3"/>
<use href="#mx" x="1585.5" y="756.3"/>
<use href="#mx" x="1624.5" y="756.3"/>
<use href="#mx" x="1663.6" y="756.3"/>
<use href="#mx" x="1702.7" y="810.5"/>
<use href="#mx" x="1741.8" y="792.4"/>
<use href="#mx" x="1780.8" y="785.2"/>
<use href="#mx" x="1819.9" y="785.2"/>
<use href="#mx" x="1859.0" y="785.2"/>
<use href="#mx" x="1898.1" y="785.2"/>
<use href="#mx" x="1937.1" y="785.2"/>
<use href="#mx" x="1976.2" y="792.4"/>
<use href="#mx" x="2015.3" y="792.4"/>
<use href="#mx" x="2054.4" y="792.4"/>
<use href="#mx" x="2093.4" y="792.4"/>
<use href="#mx" x="2132.5" y="792.4"/>
<use href="#mx" x="2171.6" y="792.4"/>
<use href="#mx" x="2210.7" y="792.4"/>
<use href="#mx" x="2249.7" y="792.4"/>
<use href="#mx" x="2288.8" y="792.4"/>
<use href="#mx" x="2327.9" y="792.4"/>
<use href="#mx" x="2367.0" y="792.4"/>
</g>
<g stroke="#5f7530" fill="#5f7530">
<path d="M335.0 792.4L374.1 792.4L413.2 803.3L452.3 803.3C452.3 803.3 478.3 800.9 491.3 799.7C504.4 798.4 517.4 797.8 530.4 796.0C543.4 794.2 556.5 791.2 569.5 788.8C582.5 786.4 595.5 785.8 608.6 781.6C621.6 777.4 634.6 769.5 647.6 763.5C660.7 757.5 673.7 750.8 686.7 745.4C699.7 740.0 712.8 734.0 725.8 731.0C738.8 727.9 764.9 727.3 764.9 727.3L803.9 727.3L843.0 727.3C843.0 727.3 869.1 735.2 882.1 738.2C895.1 741.2 908.1 743.0 921.2 745.4C934.2 747.8 960.2 752.7 960.2 752.7L999.3 752.7L1038.4 752.7L1077.5 752.7L1116.5 752.7L1155.6 752.7L1194.7 680.3L1233.8 680.3L1272.8 680.3L1311.9 680.3L1351.0 680.3L1390.1 680.3L1429.2 680.3L1468.2 680.3L1507.3 680.3L1546.4 680.3L1585.5 680.3L1624.5 680.3L1663.6 756.3C1663.6 756.3 1689.7 746.6 1702.7 741.8C1715.7 737.0 1728.7 731.0 1741.8 727.3C1754.8 723.7 1780.8 720.1 1780.8 720.1L1819.9 720.1L1859.0 720.1L1898.1 720.1L1937.1 720.1L1976.2 709.3L2015.3 709.3C2015.3 709.3 2041.3 701.4 2054.4 698.4C2067.4 695.4 2093.4 691.2 2093.4 691.2L2132.5 691.2L2171.6 691.2L2210.7 691.2L2249.7 691.2L2288.8 691.2" fill="none" stroke-width="7.6" stroke-linejoin="round" stroke-linecap="round"/>
<use href="#ma" x="335.0" y="792.4"/>
<use href="#ma" x="374.1" y="792.4"/>
<use href="#ma" x="413.2" y="803.3"/>
<use href="#ma" x="452.3" y="803.3"/>
<use href="#ma" x="491.3" y="799.7"/>
<use href="#ma" x="530.4" y="796.0"/>
<use href="#ma" x="569.5" y="788.8"/>
<use href="#ma" x="608.6" y="781.6"/>
<use href="#ma" x="647.6" y="763.5"/>
<use href="#ma" x="686.7" y="745.4"/>
<use href="#ma" x="725.8" y="731.0"/>
<use href="#ma" x="764.9" y="727.3"/>
<use href="#ma" x="803.9" y="727.3"/>
<use href="#ma" x="843.0" y="727.3"/>
<use href="#ma" x="882.1" y="738.2"/>
<use href="#ma" x="921.2" y="745.4"/>
<use href="#ma" x="960.2" y="752.7"/>
<use href="#ma" x="999.3" y="752.7"/>
<use href="#ma" x="1038.4" y="752.7"/>
<use href="#ma" x="1077.5" y="752.7"/>
<use href="#ma" x="1116.5" y="752.7"/>
<use href="#ma" x="1155.6" y="752.7"/>
<use href="#ma" x="1194.7" y="680.3"/>
<use href="#ma" x="1233.8" y="680.3"/>
<use href="#ma" x="1272.8" y="680.3"/>
<use href="#ma" x="1311.9" y="680.3"/>
<use href="#ma" x="1351.0" y="680.3"/>
<use href="#ma" x="1390.1" y="680.3"/>
<use href="#ma" x="1429.2" y="680.3"/>
<use href="#ma" x="1468.2" y="680.3"/>
<use href="#ma" x="1507.3" y="680.3"/>
<use href="#ma" x="1546.4" y="680.3"/>
<use href="#ma" x="1585.5" y="680.3"/>
<use href="#ma" x="1624.5" y="680.3"/>
<use href="#ma" x="1663.6" y="756.3"/>
<use href="#ma" x="1702.7" y="741.8"/>
<use href="#ma" x="1741.8" y="727.3"/>
<use href="#ma" x="1780.8" y="720.1"/>
<use href="#ma" x="1819.9" y="720.1"/>
<use href="#ma" x="1859.0" y="720.1"/>
<use href="#ma" x="1898.1" y="720.1"/>
<use href="#ma" x="1937.1" y="720.1"/>
<use href="#ma" x="1976.2" y="709.3"/>
<use href="#ma" x="2015.3" y="709.3"/>
<use href="#ma" x="2054.4" y="698.4"/>
<use href="#ma" x="2093.4" y="691.2"/>
<use href="#ma" x="2132.5" y="691.2"/>
<use href="#ma" x="2171.6" y="691.2"/>
<use href="#ma" x="2210.7" y="691.2"/>
<use href="#ma" x="2249.7" y="691.2"/>
<use href="#ma" x="2288.8" y="691.2"/>
</g>
<g stroke="#276a7c" fill="#276a7c">
<path d="M335.0 691.2L374.1 691.2L413.2 691.2L452.3 691.2L491.3 684.0L530.4 673.1L569.5 644.2L608.6 597.2L647.6 579.1L686.7 561.0L725.8 524.9L764.9 488.7L803.9 452.6L843.0 434.5L882.1 434.5L921.2 434.5L960.2 488.7L999.3 488.7L1038.4 488.7L1077.5 488.7L1116.5 488.7L1155.6 488.7L1194.7 488.7L1233.8 470.7L1272.8 452.6L1311.9 434.5L1351.0 423.7L1390.1 412.8L1429.2 412.8L1468.2 412.8L1507.3 412.8L1546.4 412.8L1585.5 412.8L1624.5 412.8L1663.6 394.7L1702.7 376.7L1741.8 358.6L1780.8 351.3" fill="none" stroke-width="7.4" stroke-linejoin="round" stroke-linecap="round"/>
<circle cx="335.0" cy="691.2" r="12.3" stroke="none"/>
<circle cx="374.1" cy="691.2" r="12.3" stroke="none"/>
<circle cx="413.2" cy="691.2" r="12.3" stroke="none"/>
<circle cx="452.3" cy="691.2" r="12.3" stroke="none"/>
<circle cx="491.3" cy="684.0" r="12.3" stroke="none"/>
<circle cx="530.4" cy="673.1" r="12.3" stroke="none"/>
<circle cx="569.5" cy="644.2" r="12.3" stroke="none"/>
<circle cx="608.6" cy="597.2" r="12.3" stroke="none"/>
<circle cx="647.6" cy="579.1" r="12.3" stroke="none"/>
<circle cx="686.7" cy="561.0" r="12.3" stroke="none"/>
<circle cx="725.8" cy="524.9" r="12.3" stroke="none"/>
<circle cx="764.9" cy="488.7" r="12.3" stroke="none"/>
<circle cx="803.9" cy="452.6" r="12.3" stroke="none"/>
<circle cx="843.0" cy="434.5" r="12.3" stroke="none"/>
<circle cx="882.1" cy="434.5" r="12.3" stroke="none"/>
<circle cx="921.2" cy="434.5" r="12.3" stroke="none"/>
<circle cx="960.2" cy="488.7" r="12.3" stroke="none"/>
<circle cx="999.3" cy="488.7" r="12.3" stroke="none"/>
<circle cx="1038.4" cy="488.7" r="12.3" stroke="none"/>
<circle cx="1077.5" cy="488.7" r="12.3" stroke="none"/>
<circle cx="1116.5" cy="488.7" r="12.3" stroke="none"/>
<circle cx="1155.6" cy="488.7" r="12.3" stroke="none"/>
<circle cx="1194.7" cy="488.7" r="12.3" stroke="none"/>
<circle cx="1233.8" cy="470.7" r="12.3" stroke="none"/>
<circle cx="1272.8" cy="452.6" r="12.3" stroke="none"/>
<circle cx="1311.9" cy="434.5" r="12.3" stroke="none"/>
<circle cx="1351.0" cy="423.7" r="12.3" stroke="none"/>
<circle cx="1390.1" cy="412.8" r="12.3" stroke="none"/>
<circle cx="1429.2" cy="412.8" r="12.3" stroke="none"/>
<circle cx="1468.2" cy="412.8" r="12.3" stroke="none"/>
<circle cx="1507.3" cy="412.8" r="12.3" stroke="none"/>
<circle cx="1546.4" cy="412.8" r="12.3" stroke="none"/>
<circle cx="1585.5" cy="412.8" r="12.3" stroke="none"/>
<circle cx="1624.5" cy="412.8" r="12.3" stroke="none"/>
<circle cx="1663.6" cy="394.7" r="12.3" stroke="none"/>
<circle cx="1702.7" cy="376.7" r="12.3" stroke="none"/>
<circle cx="1741.8" cy="358.6" r="12.3" stroke="none"/>
<circle cx="1780.8" cy="351.3" r="12.3" stroke="none"/>
</g>
<g stroke="#2c4d75" fill="#2c4d75"><path d="M444 910.9H508" stroke-width="8" stroke-linecap="round" fill="none"/>
<path d="M464.9 900.1L486.5 921.6999999999999M464.9 921.6999999999999L486.5 900.1" stroke-width="2.8" fill="none"/>
</g>
<text x="514.5" y="920.6" font-size="32.83720930232558" font-weight="700" textLength="340.4" lengthAdjust="spacingAndGlyphs" stroke="#000" stroke-width="0.8">Huevo "L" (REUS) 2020</text>
<g stroke="#5f7530" fill="#5f7530"><path d="M1065 910.9H1128.5" stroke-width="8" stroke-linecap="round" fill="none"/>
<path d="M1085.5 900.1L1107.1 921.6999999999999M1085.5 921.6999999999999L1107.1 900.1M1096.3 899.5V922.3" stroke-width="2.8" fill="none"/>
</g>
<text x="1135.4" y="920.6" font-size="32.83720930232558" font-weight="700" textLength="335.6" lengthAdjust="spacingAndGlyphs" stroke="#000" stroke-width="0.8">Huevo "L" (REUS) 2021</text>
<g stroke="#276a7c" fill="#276a7c"><path d="M1681 910.9H1745" stroke-width="8" stroke-linecap="round" fill="none"/>
<circle cx="1711.5" cy="910.9" r="11" stroke="none"/>
</g>
<text x="1751.4" y="920.6" font-size="32.83720930232558" font-weight="700" textLength="340.2" lengthAdjust="spacingAndGlyphs" stroke="#000" stroke-width="0.8">Huevo "L" (REUS) 2022</text>
</g>
<g id="chart2">
<rect x="176" y="1084.5" width="2288.5" height="693" fill="#fff" stroke="#868686" stroke-width="3"/>
<text x="1018.2" y="1059.1" font-size="32.33720930232558" font-weight="700" textLength="543.6" lengthAdjust="spacingAndGlyphs" stroke="#000" stroke-width="0.8">EVOLUCIÓN PRECIOS POLLO 2021-22</text>
<path d="M302.0 1593.50H2390.0M302.0 1565.50H2390.0M302.0 1537.50H2390.0M302.0 1509.50H2390.0M302.0 1481.50H2390.0M302.0 1452.50H2390.0M302.0 1424.50H2390.0M302.0 1396.50H2390.0M302.0 1368.50H2390.0M302.0 1340.50H2390.0M302.0 1312.50H2390.0M302.0 1284.50H2390.0M302.0 1256.50H2390.0M302.0 1227.50H2390.0M302.0 1199.50H2390.0M302.0 1171.50H2390.0M302.0 1143.50H2390.0M302.0 1115.50H2390.0" stroke="#868686" stroke-width="3" fill="none"/>
<path d="M310.5 1115.5V1593.5M2381.5 1115.5V1593.5" stroke="#868686" stroke-width="3" fill="none"/>
<path d="M310.50 1593.5v8.5M348.50 1593.5v8.5M387.50 1593.5v8.5M425.50 1593.5v8.5M463.50 1593.5v8.5M502.50 1593.5v8.5M540.50 1593.5v8.5M578.50 1593.5v8.5M617.50 1593.5v8.5M655.50 1593.5v8.5M694.50 1593.5v8.5M732.50 1593.5v8.5M770.50 1593.5v8.5M809.50 1593.5v8.5M847.50 1593.5v8.5M885.50 1593.5v8.5M924.50 1593.5v8.5M962.50 1593.5v8.5M1000.50 1593.5v8.5M1039.50 1593.5v8.5M1077.50 1593.5v8.5M1115.50 1593.5v8.5M1154.50 1593.5v8.5M1192.50 1593.5v8.5M1230.50 1593.5v8.5M1269.50 1593.5v8.5M1307.50 1593.5v8.5M1346.50 1593.5v8.5M1384.50 1593.5v8.5M1422.50 1593.5v8.5M1461.50 1593.5v8.5M1499.50 1593.5v8.5M1537.50 1593.5v8.5M1576.50 1593.5v8.5M1614.50 1593.5v8.5M1652.50 1593.5v8.5M1691.50 1593.5v8.5M1729.50 1593.5v8.5M1767.50 1593.5v8.5M1806.50 1593.5v8.5M1844.50 1593.5v8.5M1882.50 1593.5v8.5M1921.50 1593.5v8.5M1959.50 1593.5v8.5M1997.50 1593.5v8.5M2036.50 1593.5v8.5M2074.50 1593.5v8.5M2113.50 1593.5v8.5M2151.50 1593.5v8.5M2189.50 1593.5v8.5M2228.50 1593.5v8.5M2266.50 1593.5v8.5M2304.50 1593.5v8.5M2343.50 1593.5v8.5M2381.50 1593.5v8.5" stroke="#868686" stroke-width="3" fill="none"/>
<path d="M329.50 1593.5v6.5M368.50 1593.5v6.5M406.50 1593.5v6.5M444.50 1593.5v6.5M483.50 1593.5v6.5M521.50 1593.5v6.5M559.50 1593.5v6.5M598.50 1593.5v6.5M636.50 1593.5v6.5M674.50 1593.5v6.5M713.50 1593.5v6.5M751.50 1593.5v6.5M789.50 1593.5v6.5M828.50 1593.5v6.5M866.50 1593.5v6.5M904.50 1593.5v6.5M943.50 1593.5v6.5M981.50 1593.5v6.5M1020.50 1593.5v6.5M1058.50 1593.5v6.5M1096.50 1593.5v6.5M1135.50 1593.5v6.5M1173.50 1593.5v6.5M1211.50 1593.5v6.5M1250.50 1593.5v6.5M1288.50 1593.5v6.5M1326.50 1593.5v6.5M1365.50 1593.5v6.5M1403.50 1593.5v6.5M1441.50 1593.5v6.5M1480.50 1593.5v6.5M1518.50 1593.5v6.5M1556.50 1593.5v6.5M1595.50 1593.5v6.5M1633.50 1593.5v6.5M1671.50 1593.5v6.5M1710.50 1593.5v6.5M1748.50 1593.5v6.5M1787.50 1593.5v6.5M1825.50 1593.5v6.5M1863.50 1593.5v6.5M1902.50 1593.5v6.5M1940.50 1593.5v6.5M1978.50 1593.5v6.5M2017.50 1593.5v6.5M2055.50 1593.5v6.5M2093.50 1593.5v6.5M2132.50 1593.5v6.5M2170.50 1593.5v6.5M2208.50 1593.5v6.5M2247.50 1593.5v6.5M2285.50 1593.5v6.5M2323.50 1593.5v6.5M2362.50 1593.5v6.5" stroke="#868686" stroke-width="2.6" fill="none"/>
<text x="285.0" y="1601.5" font-size="27.4" text-anchor="end" textLength="49.6" lengthAdjust="spacingAndGlyphs" stroke="#000" stroke-width="0.3">0,70</text>
<text x="2406.5" y="1601.5" font-size="27.4" textLength="49.6" lengthAdjust="spacingAndGlyphs" stroke="#000" stroke-width="0.3">0,70</text>
<text x="285.1" y="1573.4" font-size="27.4" text-anchor="end" textLength="49.6" lengthAdjust="spacingAndGlyphs" stroke="#000" stroke-width="0.3">0,85</text>
<text x="2406.5" y="1573.4" font-size="27.4" textLength="49.6" lengthAdjust="spacingAndGlyphs" stroke="#000" stroke-width="0.3">0,85</text>
<text x="285.0" y="1545.3" font-size="27.4" text-anchor="end" textLength="49.6" lengthAdjust="spacingAndGlyphs" stroke="#000" stroke-width="0.3">1,00</text>
<text x="2405.6" y="1545.3" font-size="27.4" textLength="49.6" lengthAdjust="spacingAndGlyphs" stroke="#000" stroke-width="0.3">1,00</text>
<text x="285.1" y="1517.1" font-size="27.4" text-anchor="end" textLength="49.6" lengthAdjust="spacingAndGlyphs" stroke="#000" stroke-width="0.3">1,15</text>
<text x="2405.6" y="1517.1" font-size="27.4" textLength="49.6" lengthAdjust="spacingAndGlyphs" stroke="#000" stroke-width="0.3">1,15</text>
<text x="285.0" y="1489.0" font-size="27.4" text-anchor="end" textLength="49.6" lengthAdjust="spacingAndGlyphs" stroke="#000" stroke-width="0.3">1,30</text>
<text x="2405.6" y="1489.0" font-size="27.4" textLength="49.6" lengthAdjust="spacingAndGlyphs" stroke="#000" stroke-width="0.3">1,30</text>
<text x="285.1" y="1460.9" font-size="27.4" text-anchor="end" textLength="49.6" lengthAdjust="spacingAndGlyphs" stroke="#000" stroke-width="0.3">1,45</text>
<text x="2405.6" y="1460.9" font-size="27.4" textLength="49.6" lengthAdjust="spacingAndGlyphs" stroke="#000" stroke-width="0.3">1,45</text>
<text x="285.0" y="1432.8" font-size="27.4" text-anchor="end" textLength="49.6" lengthAdjust="spacingAndGlyphs" stroke="#000" stroke-width="0.3">1,60</text>
<text x="2405.6" y="1432.8" font-size="27.4" textLength="49.6" lengthAdjust="spacingAndGlyphs" stroke="#000" stroke-width="0.3">1,60</text>
<text x="285.1" y="1404.7" font-size="27.4" text-anchor="end" textLength="49.6" lengthAdjust="spacingAndGlyphs" stroke="#000" stroke-width="0.3">1,75</text>
<text x="2405.6" y="1404.7" font-size="27.4" textLength="49.6" lengthAdjust="spacingAndGlyphs" stroke="#000" stroke-width="0.3">1,75</text>
<text x="285.0" y="1376.6" font-size="27.4" text-anchor="end" textLength="49.6" lengthAdjust="spacingAndGlyphs" stroke="#000" stroke-width="0.3">1,90</text>
<text x="2405.6" y="1376.6" font-size="27.4" textLength="49.6" lengthAdjust="spacingAndGlyphs" stroke="#000" stroke-width="0.3">1,90</text>
<text x="285.1" y="1348.4" font-size="27.4" text-anchor="end" textLength="49.6" lengthAdjust="spacingAndGlyphs" stroke="#000" stroke-width="0.3">2,05</text>
<text x="2406.2" y="1348.4" font-size="27.4" textLength="49.6" lengthAdjust="spacingAndGlyphs" stroke="#000" stroke-width="0.3">2,05</text>
<text x="285.0" y="1320.3" font-size="27.4" text-anchor="end" textLength="49.6" lengthAdjust="spacingAndGlyphs" stroke="#000" stroke-width="0.3">2,20</text>
<text x="2406.2" y="1320.3" font-size="27.4" textLength="49.6" lengthAdjust="spacingAndGlyphs" stroke="#000" stroke-width="0.3">2,20</text>
<text x="285.1" y="1292.2" font-size="27.4" text-anchor="end" textLength="49.6" lengthAdjust="spacingAndGlyphs" stroke="#000" stroke-width="0.3">2,35</text>
<text x="2406.2" y="1292.2" font-size="27.4" textLength="49.6" lengthAdjust="spacingAndGlyphs" stroke="#000" stroke-width="0.3">2,35</text>
<text x="285.0" y="1264.1" font-size="27.4" text-anchor="end" textLength="49.6" lengthAdjust="spacingAndGlyphs" stroke="#000" stroke-width="0.3">2,50</text>
<text x="2406.2" y="1264.1" font-size="27.4" textLength="49.6" lengthAdjust="spacingAndGlyphs" stroke="#000" stroke-width="0.3">2,50</text>
<text x="285.1" y="1236.0" font-size="27.4" text-anchor="end" textLength="49.6" lengthAdjust="spacingAndGlyphs" stroke="#000" stroke-width="0.3">2,65</text>
<text x="2406.2" y="1236.0" font-size="27.4" textLength="49.6" lengthAdjust="spacingAndGlyphs" stroke="#000" stroke-width="0.3">2,65</text>
<text x="285.0" y="1207.9" font-size="27.4" text-anchor="end" textLength="49.6" lengthAdjust="spacingAndGlyphs" stroke="#000" stroke-width="0.3">2,80</text>
<text x="2406.2" y="1207.9" font-size="27.4" textLength="49.6" lengthAdjust="spacingAndGlyphs" stroke="#000" stroke-width="0.3">2,80</text>
<text x="285.1" y="1179.7" font-size="27.4" text-anchor="end" textLength="49.6" lengthAdjust="spacingAndGlyphs" stroke="#000" stroke-width="0.3">2,95</text>
<text x="2406.2" y="1179.7" font-size="27.4" textLength="49.6" lengthAdjust="spacingAndGlyphs" stroke="#000" stroke-width="0.3">2,95</text>
<text x="285.0" y="1151.6" font-size="27.4" text-anchor="end" textLength="49.6" lengthAdjust="spacingAndGlyphs" stroke="#000" stroke-width="0.3">3,10</text>
<text x="2406.5" y="1151.6" font-size="27.4" textLength="49.6" lengthAdjust="spacingAndGlyphs" stroke="#000" stroke-width="0.3">3,10</text>
<text x="285.1" y="1123.5" font-size="27.4" text-anchor="end" textLength="49.6" lengthAdjust="spacingAndGlyphs" stroke="#000" stroke-width="0.3">3,25</text>
<text x="2406.5" y="1123.5" font-size="27.4" textLength="49.6" lengthAdjust="spacingAndGlyphs" stroke="#000" stroke-width="0.3">3,25</text>
<text x="0" y="0" font-size="26.4" text-anchor="end" textLength="62.8" lengthAdjust="spacingAndGlyphs" transform="translate(336.1 1624.4) rotate(-60)">37/21</text>
<text x="0" y="0" font-size="26.4" text-anchor="end" textLength="62.8" lengthAdjust="spacingAndGlyphs" transform="translate(374.4 1624.4) rotate(-60)">38/21</text>
<text x="0" y="0" font-size="26.4" text-anchor="end" textLength="62.8" lengthAdjust="spacingAndGlyphs" transform="translate(412.8 1624.4) rotate(-60)">39/21</text>
<text x="0" y="0" font-size="26.4" text-anchor="end" textLength="62.8" lengthAdjust="spacingAndGlyphs" transform="translate(451.1 1624.4) rotate(-60)">40/21</text>
<text x="0" y="0" font-size="26.4" text-anchor="end" textLength="62.8" lengthAdjust="spacingAndGlyphs" transform="translate(489.5 1624.4) rotate(-60)">41/21</text>
<text x="0" y="0" font-size="26.4" text-anchor="end" textLength="62.8" lengthAdjust="spacingAndGlyphs" transform="translate(527.8 1624.4) rotate(-60)">42/21</text>
<text x="0" y="0" font-size="26.4" text-anchor="end" textLength="62.8" lengthAdjust="spacingAndGlyphs" transform="translate(566.2 1624.4) rotate(-60)">43/21</text>
<text x="0" y="0" font-size="26.4" text-anchor="end" textLength="62.8" lengthAdjust="spacingAndGlyphs" transform="translate(604.5 1624.4) rotate(-60)">44/21</text>
<text x="0" y="0" font-size="26.4" text-anchor="end" textLength="62.8" lengthAdjust="spacingAndGlyphs" transform="translate(642.9 1624.4) rotate(-60)">45/21</text>
<text x="0" y="0" font-size="26.4" text-anchor="end" textLength="62.8" lengthAdjust="spacingAndGlyphs" transform="translate(681.2 1624.4) rotate(-60)">46/21</text>
<text x="0" y="0" font-size="26.4" text-anchor="end" textLength="62.8" lengthAdjust="spacingAndGlyphs" transform="translate(719.6 1624.4) rotate(-60)">47/21</text>
<text x="0" y="0" font-size="26.4" text-anchor="end" textLength="62.8" lengthAdjust="spacingAndGlyphs" transform="translate(757.9 1624.4) rotate(-60)">48/21</text>
<text x="0" y="0" font-size="26.4" text-anchor="end" textLength="62.8" lengthAdjust="spacingAndGlyphs" transform="translate(796.3 1624.4) rotate(-60)">49/21</text>
<text x="0" y="0" font-size="26.4" text-anchor="end" textLength="62.8" lengthAdjust="spacingAndGlyphs" transform="translate(834.6 1624.4) rotate(-60)">50/21</text>
<text x="0" y="0" font-size="26.4" text-anchor="end" textLength="62.8" lengthAdjust="spacingAndGlyphs" transform="translate(873.0 1624.4) rotate(-60)">51/21</text>
<text x="0" y="0" font-size="26.4" text-anchor="end" textLength="62.8" lengthAdjust="spacingAndGlyphs" transform="translate(911.4 1624.4) rotate(-60)">52/21</text>
<text x="0" y="0" font-size="26.4" text-anchor="end" textLength="62.8" lengthAdjust="spacingAndGlyphs" transform="translate(949.7 1624.4) rotate(-60)">01/22</text>
<text x="0" y="0" font-size="26.4" text-anchor="end" textLength="62.8" lengthAdjust="spacingAndGlyphs" transform="translate(988.1 1624.4) rotate(-60)">02/22</text>
<text x="0" y="0" font-size="26.4" text-anchor="end" textLength="62.8" lengthAdjust="spacingAndGlyphs" transform="translate(1026.4 1624.4) rotate(-60)">03/22</text>
<text x="0" y="0" font-size="26.4" text-anchor="end" textLength="62.8" lengthAdjust="spacingAndGlyphs" transform="translate(1064.8 1624.4) rotate(-60)">04/22</text>
<text x="0" y="0" font-size="26.4" text-anchor="end" textLength="62.8" lengthAdjust="spacingAndGlyphs" transform="translate(1103.1 1624.4) rotate(-60)">05/22</text>
<text x="0" y="0" font-size="26.4" text-anchor="end" textLength="62.8" lengthAdjust="spacingAndGlyphs" transform="translate(1141.5 1624.4) rotate(-60)">06/22</text>
<text x="0" y="0" font-size="26.4" text-anchor="end" textLength="62.8" lengthAdjust="spacingAndGlyphs" transform="translate(1179.8 1624.4) rotate(-60)">07/22</text>
<text x="0" y="0" font-size="26.4" text-anchor="end" textLength="62.8" lengthAdjust="spacingAndGlyphs" transform="translate(1218.2 1624.4) rotate(-60)">08/22</text>
<text x="0" y="0" font-size="26.4" text-anchor="end" textLength="62.8" lengthAdjust="spacingAndGlyphs" transform="translate(1256.5 1624.4) rotate(-60)">09/22</text>
<text x="0" y="0" font-size="26.4" text-anchor="end" textLength="62.8" lengthAdjust="spacingAndGlyphs" transform="translate(1294.9 1624.4) rotate(-60)">10/22</text>
<text x="0" y="0" font-size="26.4" text-anchor="end" textLength="62.8" lengthAdjust="spacingAndGlyphs" transform="translate(1333.2 1624.4) rotate(-60)">11/22</text>
<text x="0" y="0" font-size="26.4" text-anchor="end" textLength="62.8" lengthAdjust="spacingAndGlyphs" transform="translate(1371.6 1624.4) rotate(-60)">12/22</text>
<text x="0" y="0" font-size="26.4" text-anchor="end" textLength="62.8" lengthAdjust="spacingAndGlyphs" transform="translate(1409.9 1624.4) rotate(-60)">13/22</text>
<text x="0" y="0" font-size="26.4" text-anchor="end" textLength="62.8" lengthAdjust="spacingAndGlyphs" transform="translate(1448.3 1624.4) rotate(-60)">14/22</text>
<text x="0" y="0" font-size="26.4" text-anchor="end" textLength="62.8" lengthAdjust="spacingAndGlyphs" transform="translate(1486.6 1624.4) rotate(-60)">15/22</text>
<text x="0" y="0" font-size="26.4" text-anchor="end" textLength="62.8" lengthAdjust="spacingAndGlyphs" transform="translate(1525.0 1624.4) rotate(-60)">16/22</text>
<text x="0" y="0" font-size="26.4" text-anchor="end" textLength="62.8" lengthAdjust="spacingAndGlyphs" transform="translate(1563.3 1624.4) rotate(-60)">17/22</text>
<text x="0" y="0" font-size="26.4" text-anchor="end" textLength="62.8" lengthAdjust="spacingAndGlyphs" transform="translate(1601.7 1624.4) rotate(-60)">18/22</text>
<text x="0" y="0" font-size="26.4" text-anchor="end" textLength="62.8" lengthAdjust="spacingAndGlyphs" transform="translate(1640.0 1624.4) rotate(-60)">19/22</text>
<text x="0" y="0" font-size="26.4" text-anchor="end" textLength="62.8" lengthAdjust="spacingAndGlyphs" transform="translate(1678.4 1624.4) rotate(-60)">20/22</text>
<text x="0" y="0" font-size="26.4" text-anchor="end" textLength="62.8" lengthAdjust="spacingAndGlyphs" transform="translate(1716.7 1624.4) rotate(-60)">21/22</text>
<text x="0" y="0" font-size="26.4" text-anchor="end" textLength="62.8" lengthAdjust="spacingAndGlyphs" transform="translate(1755.1 1624.4) rotate(-60)">22/22</text>
<text x="0" y="0" font-size="26.4" text-anchor="end" textLength="62.8" lengthAdjust="spacingAndGlyphs" transform="translate(1793.4 1624.4) rotate(-60)">23/22</text>
<text x="0" y="0" font-size="26.4" text-anchor="end" textLength="62.8" lengthAdjust="spacingAndGlyphs" transform="translate(1831.8 1624.4) rotate(-60)">24/22</text>
<text x="0" y="0" font-size="26.4" text-anchor="end" textLength="62.8" lengthAdjust="spacingAndGlyphs" transform="translate(1870.2 1624.4) rotate(-60)">25/22</text>
<text x="0" y="0" font-size="26.4" text-anchor="end" textLength="62.8" lengthAdjust="spacingAndGlyphs" transform="translate(1908.5 1624.4) rotate(-60)">26/22</text>
<text x="0" y="0" font-size="26.4" text-anchor="end" textLength="62.8" lengthAdjust="spacingAndGlyphs" transform="translate(1946.9 1624.4) rotate(-60)">27/22</text>
<text x="0" y="0" font-size="26.4" text-anchor="end" textLength="62.8" lengthAdjust="spacingAndGlyphs" transform="translate(1985.2 1624.4) rotate(-60)">28/22</text>
<text x="0" y="0" font-size="26.4" text-anchor="end" textLength="62.8" lengthAdjust="spacingAndGlyphs" transform="translate(2023.6 1624.4) rotate(-60)">29/22</text>
<text x="0" y="0" font-size="26.4" text-anchor="end" textLength="62.8" lengthAdjust="spacingAndGlyphs" transform="translate(2061.9 1624.4) rotate(-60)">30/22</text>
<text x="0" y="0" font-size="26.4" text-anchor="end" textLength="62.8" lengthAdjust="spacingAndGlyphs" transform="translate(2100.3 1624.4) rotate(-60)">31/22</text>
<text x="0" y="0" font-size="26.4" text-anchor="end" textLength="62.8" lengthAdjust="spacingAndGlyphs" transform="translate(2138.6 1624.4) rotate(-60)">32/22</text>
<text x="0" y="0" font-size="26.4" text-anchor="end" textLength="62.8" lengthAdjust="spacingAndGlyphs" transform="translate(2177.0 1624.4) rotate(-60)">33/22</text>
<text x="0" y="0" font-size="26.4" text-anchor="end" textLength="62.8" lengthAdjust="spacingAndGlyphs" transform="translate(2215.3 1624.4) rotate(-60)">34/22</text>
<text x="0" y="0" font-size="26.4" text-anchor="end" textLength="62.8" lengthAdjust="spacingAndGlyphs" transform="translate(2253.7 1624.4) rotate(-60)">35/22</text>
<text x="0" y="0" font-size="26.4" text-anchor="end" textLength="62.8" lengthAdjust="spacingAndGlyphs" transform="translate(2292.0 1624.4) rotate(-60)">36/22</text>
<text x="0" y="0" font-size="26.4" text-anchor="end" textLength="62.8" lengthAdjust="spacingAndGlyphs" transform="translate(2330.4 1624.4) rotate(-60)">37/22</text>
<text x="0" y="0" font-size="26.4" text-anchor="end" textLength="62.8" lengthAdjust="spacingAndGlyphs" transform="translate(2368.7 1624.4) rotate(-60)">38/22</text>
<text x="0" y="0" font-size="29.837209302325583" font-weight="700" text-anchor="middle" textLength="415.7" lengthAdjust="spacingAndGlyphs" stroke="#000" stroke-width="0.8" transform="translate(207.8 1356.9) rotate(-90)">Precio (€/kg vivo)(€/kg canal)</text>
<text x="2311.9" y="1748.0" font-size="30.837209302325583" font-weight="700" textLength="120.8" lengthAdjust="spacingAndGlyphs" stroke="#000" stroke-width="0.8">Semana</text>
<g fill="#4aacc5" stroke="#4aacc5">
<path d="M329.7 1406.0L368.0 1396.7L406.4 1396.7L444.7 1396.7L483.1 1381.7L521.4 1366.7L559.8 1357.3L598.1 1347.9L636.5 1338.6L674.8 1323.6L713.2 1323.6L751.5 1323.6L789.9 1323.6L828.2 1314.2L866.6 1314.2L905.0 1314.2L943.3 1314.2L981.7 1314.2L1020.0 1314.2L1058.4 1314.2L1096.7 1323.6L1135.1 1314.2L1173.4 1267.3L1211.8 1286.1L1250.1 1276.7L1288.5 1267.3L1326.8 1239.2L1365.2 1211.1L1403.5 1192.4L1441.9 1192.4L1480.2 1192.4L1518.6 1192.4L1556.9 1192.4L1595.3 1192.4L1633.6 1192.4L1672.0 1192.4L1710.3 1192.4L1748.7 1274.8L1787.0 1274.8L1825.4 1265.5L1863.8 1256.1L1902.1 1246.7L1940.5 1228.0L1978.8 1228.0L2017.2 1228.0L2055.5 1228.0L2093.9 1228.0L2132.2 1228.0L2170.6 1228.0L2208.9 1228.0L2247.3 1228.0L2285.6 1228.0L2324.0 1228.0L2362.3 1228.0" fill="none" stroke-width="8" stroke-linejoin="round" stroke-linecap="round"/>
<use href="#md" x="329.7" y="1406.0"/>
<use href="#md" x="368.0" y="1396.7"/>
<use href="#md" x="406.4" y="1396.7"/>
<use href="#md" x="444.7" y="1396.7"/>
<use href="#md" x="483.1" y="1381.7"/>
<use href="#md" x="521.4" y="1366.7"/>
<use href="#md" x="559.8" y="1357.3"/>
<use href="#md" x="598.1" y="1347.9"/>
<use href="#md" x="636.5" y="1338.6"/>
<use href="#md" x="674.8" y="1323.6"/>
<use href="#md" x="713.2" y="1323.6"/>
<use href="#md" x="751.5" y="1323.6"/>
<use href="#md" x="789.9" y="1323.6"/>
<use href="#md" x="828.2" y="1314.2"/>
<use href="#md" x="866.6" y="1314.2"/>
<use href="#md" x="905.0" y="1314.2"/>
<use href="#md" x="943.3" y="1314.2"/>
<use href="#md" x="981.7" y="1314.2"/>
<use href="#md" x="1020.0" y="1314.2"/>
<use href="#md" x="1058.4" y="1314.2"/>
<use href="#md" x="1096.7" y="1323.6"/>
<use href="#md" x="1135.1" y="1314.2"/>
<use href="#md" x="1173.4" y="1267.3"/>
<use href="#md" x="1211.8" y="1286.1"/>
<use href="#md" x="1250.1" y="1276.7"/>
<use href="#md" x="1288.5" y="1267.3"/>
<use href="#md" x="1326.8" y="1239.2"/>
<use href="#md" x="1365.2" y="1211.1"/>
<use href="#md" x="1403.5" y="1192.4"/>
<use href="#md" x="1441.9" y="1192.4"/>
<use href="#md" x="1480.2" y="1192.4"/>
<use href="#md" x="1518.6" y="1192.4"/>
<use href="#md" x="1556.9" y="1192.4"/>
<use href="#md" x="1595.3" y="1192.4"/>
<use href="#md" x="1633.6" y="1192.4"/>
<use href="#md" x="1672.0" y="1192.4"/>
<use href="#md" x="1710.3" y="1192.4"/>
<use href="#md" x="1748.7" y="1274.8"/>
<use href="#md" x="1787.0" y="1274.8"/>
<use href="#md" x="1825.4" y="1265.5"/>
<use href="#md" x="1863.8" y="1256.1"/>
<use href="#md" x="1902.1" y="1246.7"/>
<use href="#md" x="1940.5" y="1228.0"/>
<use href="#md" x="1978.8" y="1228.0"/>
<use href="#md" x="2017.2" y="1228.0"/>
<use href="#md" x="2055.5" y="1228.0"/>
<use href="#md" x="2093.9" y="1228.0"/>
<use href="#md" x="2132.2" y="1228.0"/>
<use href="#md" x="2170.6" y="1228.0"/>
<use href="#md" x="2208.9" y="1228.0"/>
<use href="#md" x="2247.3" y="1228.0"/>
<use href="#md" x="2285.6" y="1228.0"/>
<use href="#md" x="2324.0" y="1228.0"/>
<use href="#md" x="2362.3" y="1228.0"/>
</g>
<g fill="#00b050" stroke="#00b050">
<path d="M329.7 1359.2L368.0 1349.8L406.4 1349.8L444.7 1349.8L483.1 1334.8L521.4 1319.8L559.8 1310.4L598.1 1301.1L636.5 1291.7L674.8 1276.7L713.2 1276.7L751.5 1276.7L789.9 1276.7L828.2 1267.3L866.6 1267.3L905.0 1267.3L943.3 1267.3L981.7 1267.3L1020.0 1267.3L1058.4 1267.3L1096.7 1276.7L1135.1 1267.3L1173.4 1248.6L1211.8 1239.2L1250.1 1229.8L1288.5 1220.5L1326.8 1192.4L1365.2 1164.2L1403.5 1145.5L1441.9 1145.5L1480.2 1145.5L1518.6 1145.5L1556.9 1145.5L1595.3 1145.5L1633.6 1145.5L1672.0 1145.5L1710.3 1145.5L1748.7 1228.0L1787.0 1228.0L1825.4 1218.6L1863.8 1209.2L1902.1 1199.9L1940.5 1181.1L1978.8 1181.1L2017.2 1181.1L2055.5 1181.1L2093.9 1181.1L2132.2 1181.1L2170.6 1181.1L2208.9 1181.1L2247.3 1181.1L2285.6 1181.1L2324.0 1181.1L2362.3 1181.1" fill="none" stroke-width="8" stroke-linejoin="round" stroke-linecap="round"/>
<use href="#mt" x="329.7" y="1359.2"/>
<use href="#mt" x="368.0" y="1349.8"/>
<use href="#mt" x="406.4" y="1349.8"/>
<use href="#mt" x="444.7" y="1349.8"/>
<use href="#mt" x="483.1" y="1334.8"/>
<use href="#mt" x="521.4" y="1319.8"/>
<use href="#mt" x="559.8" y="1310.4"/>
<use href="#mt" x="598.1" y="1301.1"/>
<use href="#mt" x="636.5" y="1291.7"/>
<use href="#mt" x="674.8" y="1276.7"/>
<use href="#mt" x="713.2" y="1276.7"/>
<use href="#mt" x="751.5" y="1276.7"/>
<use href="#mt" x="789.9" y="1276.7"/>
<use href="#mt" x="828.2" y="1267.3"/>
<use href="#mt" x="866.6" y="1267.3"/>
<use href="#mt" x="905.0" y="1267.3"/>
<use href="#mt" x="943.3" y="1267.3"/>
<use href="#mt" x="981.7" y="1267.3"/>
<use href="#mt" x="1020.0" y="1267.3"/>
<use href="#mt" x="1058.4" y="1267.3"/>
<use href="#mt" x="1096.7" y="1276.7"/>
<use href="#mt" x="1135.1" y="1267.3"/>
<use href="#mt" x="1173.4" y="1248.6"/>
<use href="#mt" x="1211.8" y="1239.2"/>
<use href="#mt" x="1250.1" y="1229.8"/>
<use href="#mt" x="1288.5" y="1220.5"/>
<use href="#mt" x="1326.8" y="1192.4"/>
<use href="#mt" x="1365.2" y="1164.2"/>
<use href="#mt" x="1403.5" y="1145.5"/>
<use href="#mt" x="1441.9" y="1145.5"/>
<use href="#mt" x="1480.2" y="1145.5"/>
<use href="#mt" x="1518.6" y="1145.5"/>
<use href="#mt" x="1556.9" y="1145.5"/>
<use href="#mt" x="1595.3" y="1145.5"/>
<use href="#mt" x="1633.6" y="1145.5"/>
<use href="#mt" x="1672.0" y="1145.5"/>
<use href="#mt" x="1710.3" y="1145.5"/>
<use href="#mt" x="1748.7" y="1228.0"/>
<use href="#mt" x="1787.0" y="1228.0"/>
<use href="#mt" x="1825.4" y="1218.6"/>
<use href="#mt" x="1863.8" y="1209.2"/>
<use href="#mt" x="1902.1" y="1199.9"/>
<use href="#mt" x="1940.5" y="1181.1"/>
<use href="#mt" x="1978.8" y="1181.1"/>
<use href="#mt" x="2017.2" y="1181.1"/>
<use href="#mt" x="2055.5" y="1181.1"/>
<use href="#mt" x="2093.9" y="1181.1"/>
<use href="#mt" x="2132.2" y="1181.1"/>
<use href="#mt" x="2170.6" y="1181.1"/>
<use href="#mt" x="2208.9" y="1181.1"/>
<use href="#mt" x="2247.3" y="1181.1"/>
<use href="#mt" x="2285.6" y="1181.1"/>
<use href="#mt" x="2324.0" y="1181.1"/>
<use href="#mt" x="2362.3" y="1181.1"/>
</g>
<g fill="#c0504d" stroke="#c0504d">
<path d="M329.7 1557.9L368.0 1550.4L406.4 1550.4L444.7 1550.4L483.1 1539.1L521.4 1531.6L559.8 1524.1L598.1 1518.5L636.5 1512.9L674.8 1503.5L713.2 1503.5L751.5 1503.5L789.9 1503.5L828.2 1497.9L866.6 1497.9L905.0 1497.9L943.3 1497.9L981.7 1497.9L1020.0 1497.9L1058.4 1512.9L1096.7 1527.9L1135.1 1522.3L1173.4 1509.1L1211.8 1503.5L1250.1 1496.0L1288.5 1490.4L1326.8 1471.7L1365.2 1452.9L1403.5 1443.5L1441.9 1443.5L1480.2 1443.5L1518.6 1443.5L1556.9 1452.9L1595.3 1452.9L1633.6 1452.9L1672.0 1452.9L1710.3 1452.9L1748.7 1490.4L1787.0 1490.4L1825.4 1484.8L1863.8 1477.3L1902.1 1471.7L1940.5 1462.3L1978.8 1462.3L2017.2 1462.3L2055.5 1462.3L2093.9 1462.3L2132.2 1462.3L2170.6 1462.3L2208.9 1462.3L2247.3 1462.3L2285.6 1462.3L2324.0 1462.3L2362.3 1462.3" fill="none" stroke-width="8" stroke-linejoin="round" stroke-linecap="round"/>
<use href="#md" x="329.7" y="1557.9"/>
<use href="#md" x="368.0" y="1550.4"/>
<use href="#md" x="406.4" y="1550.4"/>
<use href="#md" x="444.7" y="1550.4"/>
<use href="#md" x="483.1" y="1539.1"/>
<use href="#md" x="521.4" y="1531.6"/>
<use href="#md" x="559.8" y="1524.1"/>
<use href="#md" x="598.1" y="1518.5"/>
<use href="#md" x="636.5" y="1512.9"/>
<use href="#md" x="674.8" y="1503.5"/>
<use href="#md" x="713.2" y="1503.5"/>
<use href="#md" x="751.5" y="1503.5"/>
<use href="#md" x="789.9" y="1503.5"/>
<use href="#md" x="828.2" y="1497.9"/>
<use href="#md" x="866.6" y="1497.9"/>
<use href="#md" x="905.0" y="1497.9"/>
<use href="#md" x="943.3" y="1497.9"/>
<use href="#md" x="981.7" y="1497.9"/>
<use href="#md" x="1020.0" y="1497.9"/>
<use href="#md" x="1058.4" y="1512.9"/>
<use href="#md" x="1096.7" y="1527.9"/>
<use href="#md" x="1135.1" y="1522.3"/>
<use href="#md" x="1173.4" y="1509.1"/>
<use href="#md" x="1211.8" y="1503.5"/>
<use href="#md" x="1250.1" y="1496.0"/>
<use href="#md" x="1288.5" y="1490.4"/>
<use href="#md" x="1326.8" y="1471.7"/>
<use href="#md" x="1365.2" y="1452.9"/>
<use href="#md" x="1403.5" y="1443.5"/>
<use href="#md" x="1441.9" y="1443.5"/>
<use href="#md" x="1480.2" y="1443.5"/>
<use href="#md" x="1518.6" y="1443.5"/>
<use href="#md" x="1556.9" y="1452.9"/>
<use href="#md" x="1595.3" y="1452.9"/>
<use href="#md" x="1633.6" y="1452.9"/>
<use href="#md" x="1672.0" y="1452.9"/>
<use href="#md" x="1710.3" y="1452.9"/>
<use href="#md" x="1748.7" y="1490.4"/>
<use href="#md" x="1787.0" y="1490.4"/>
<use href="#md" x="1825.4" y="1484.8"/>
<use href="#md" x="1863.8" y="1477.3"/>
<use href="#md" x="1902.1" y="1471.7"/>
<use href="#md" x="1940.5" y="1462.3"/>
<use href="#md" x="1978.8" y="1462.3"/>
<use href="#md" x="2017.2" y="1462.3"/>
<use href="#md" x="2055.5" y="1462.3"/>
<use href="#md" x="2093.9" y="1462.3"/>
<use href="#md" x="2132.2" y="1462.3"/>
<use href="#md" x="2170.6" y="1462.3"/>
<use href="#md" x="2208.9" y="1462.3"/>
<use href="#md" x="2247.3" y="1462.3"/>
<use href="#md" x="2285.6" y="1462.3"/>
<use href="#md" x="2324.0" y="1462.3"/>
<use href="#md" x="2362.3" y="1462.3"/>
</g>
<g fill="#4aacc5" stroke="#4aacc5"><path d="M333 1743.9H397" stroke-width="8" stroke-linecap="round" fill="none"/>
<path d="M365.0 1734.9L374.0 1743.9L365.0 1752.9L356.0 1743.9Z" stroke-width="1" stroke-linejoin="round"/>
</g>
<text x="403.5" y="1752.6" font-size="29.337209302325583" font-weight="700" textLength="474.1" lengthAdjust="spacingAndGlyphs" stroke="#000" stroke-width="0.8">Pollo canal estándar muelle (Ebro)</text>
<g fill="#00b050" stroke="#00b050"><path d="M976.4 1743.9H1039.6" stroke-width="8" stroke-linecap="round" fill="none"/>
<path d="M1008.0 1734.4L1017.5 1753.4H998.5Z" stroke-width="1.5" stroke-linejoin="round"/>
</g>
<text x="1046.7" y="1752.6" font-size="29.337209302325583" font-weight="700" textLength="484.4" lengthAdjust="spacingAndGlyphs" stroke="#000" stroke-width="0.8">Pollo canal estándar reparto (Ebro)</text>
<g fill="#c0504d" stroke="#c0504d"><path d="M1630.3 1743.9H1693.7" stroke-width="8" stroke-linecap="round" fill="none"/>
<path d="M1662.0 1734.9L1671.0 1743.9L1662.0 1752.9L1653.0 1743.9Z" stroke-width="1" stroke-linejoin="round"/>
</g>
<text x="1699.2" y="1752.6" font-size="29.337209302325583" font-weight="700" textLength="489.4" lengthAdjust="spacingAndGlyphs" stroke="#000" stroke-width="0.8">Pollo vivo estándar origen gr (Ebro)</text>
</g>
<g id="footer">
<text x="205.2" y="1817.5" font-size="17.4" font-style="italic" textLength="2161.8" lengthAdjust="spacingAndGlyphs" fill="#7f7f7f">Aunque DSM ha puesto todo el cuidado para garantizar que la información aquí contenida es correcta y está actualizada, DSM no asume ninguna garantía acerca de la exactitud, fiabilidad o integridad de la información. Los datos aquí contenidos son para fines</text>
<text x="204.0" y="1839.5" font-size="17.4" font-style="italic" textLength="2163.4" lengthAdjust="spacingAndGlyphs" fill="#7f7f7f">informativos y están destinados solamente para su uso en las empresas. Esta publicación no constituye ni proporciona asesoramiento científico o médico, diagnóstico o tratamiento y se distribuye sin garantía de ningún tipo, ni expresa ni implícitamente En ningún</text>
<text x="203.7" y="1861.7" font-size="17.4" font-style="italic" textLength="2163.5" lengthAdjust="spacingAndGlyphs" fill="#7f7f7f">caso DSM será responsable de los daños derivados de la confianza del lector sobre, o el uso de estos datos. El lector será el único responsable de cualquier interpretación o el uso del material contenido en este documento El contenido de este documento está</text>
<text x="204.3" y="1883.5" font-size="17.4" font-style="italic" textLength="2162.7" lengthAdjust="spacingAndGlyphs" fill="#7f7f7f">sujeto a cambios sin previo aviso. Póngase en contacto con su representante local de DSM para más detalles. Todas las marcas comerciales mencionadas en este folleto son marcas comerciales registradas o marcas comerciales de DSM en los Países Bajos y/u</text>
<text x="203.7" y="1905.7" font-size="17.4" font-style="italic" textLength="108.0" lengthAdjust="spacingAndGlyphs" fill="#7f7f7f">otros países.</text>
</g>
<text id="tagline" y="1973" font-size="28" font-weight="700" fill="#1590cf"><tspan x="1817.9" textLength="136.1" lengthAdjust="spacingAndGlyphs">NUTRITION</tspan> <tspan x="1965.8">·</tspan> <tspan x="1985.1" textLength="93.1" lengthAdjust="spacingAndGlyphs">HEALTH</tspan> <tspan x="2090.3">·</tspan> <tspan x="2111.3" textLength="259.8" lengthAdjust="spacingAndGlyphs">SUSTAINABLE LIVING</tspan></text>
</svg></body></html>
